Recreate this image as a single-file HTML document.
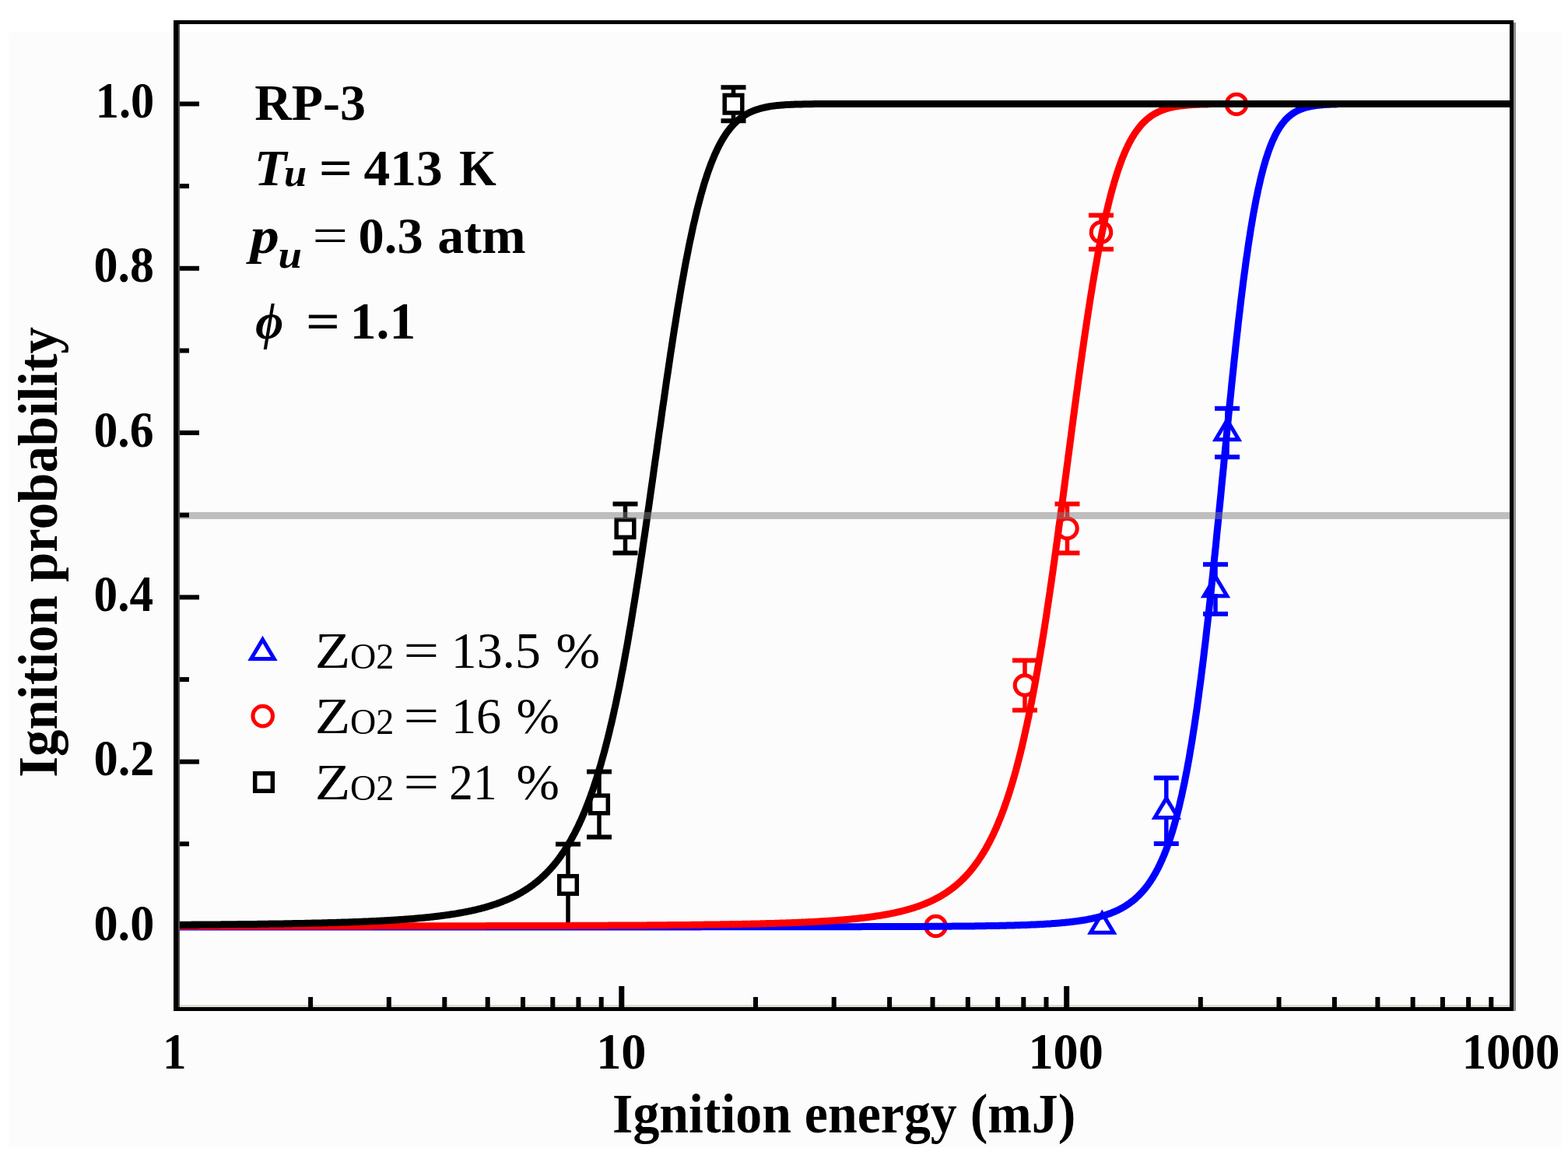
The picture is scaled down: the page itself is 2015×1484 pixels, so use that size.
<!DOCTYPE html>
<html><head><meta charset="utf-8"><title>Ignition probability</title>
<style>html,body{margin:0;padding:0;background:#fff;}svg{display:block;}</style></head>
<body>
<svg width="2015" height="1484" viewBox="0 0 2015 1484">
<rect x="0" y="0" width="2015" height="1484" fill="#ffffff"/>
<rect x="11" y="42" width="1996" height="1432" fill="#fdfcfd"/>

<line x1="1498.8" y1="999.4000000000001" x2="1498.8" y2="1084.0" stroke="#0000ff" stroke-width="5.5"/><line x1="1482.8" y1="999.4000000000001" x2="1514.8" y2="999.4000000000001" stroke="#0000ff" stroke-width="6"/><line x1="1482.8" y1="1084.0" x2="1514.8" y2="1084.0" stroke="#0000ff" stroke-width="6"/>
<line x1="1562" y1="725.2" x2="1562" y2="788.8" stroke="#0000ff" stroke-width="5.5"/><line x1="1546.0" y1="725.2" x2="1578.0" y2="725.2" stroke="#0000ff" stroke-width="6"/><line x1="1546.0" y1="788.8" x2="1578.0" y2="788.8" stroke="#0000ff" stroke-width="6"/>
<line x1="1577" y1="524.8" x2="1577" y2="587.2" stroke="#0000ff" stroke-width="5.5"/><line x1="1561.0" y1="524.8" x2="1593.0" y2="524.8" stroke="#0000ff" stroke-width="6"/><line x1="1561.0" y1="587.2" x2="1593.0" y2="587.2" stroke="#0000ff" stroke-width="6"/>
<path d="M1416.30,1178.29 L1426.71,1195.80 L1405.89,1195.80 Z" fill="#fff"/><path d="M1416.30,1168.50 L1435.50,1200.80 L1397.10,1200.80 Z M1416.30,1178.29 L1426.71,1195.80 L1405.89,1195.80 Z" fill="#00f" fill-rule="evenodd"/>
<path d="M1498.80,1030.49 L1509.21,1048.00 L1488.39,1048.00 Z" fill="#fff"/><path d="M1498.80,1020.70 L1518.00,1053.00 L1479.60,1053.00 Z M1498.80,1030.49 L1509.21,1048.00 L1488.39,1048.00 Z" fill="#00f" fill-rule="evenodd"/>
<path d="M1562.00,745.79 L1572.41,763.30 L1551.59,763.30 Z" fill="#fff"/><path d="M1562.00,736.00 L1581.20,768.30 L1542.80,768.30 Z M1562.00,745.79 L1572.41,763.30 L1551.59,763.30 Z" fill="#00f" fill-rule="evenodd"/>
<path d="M1577.00,544.79 L1587.41,562.30 L1566.59,562.30 Z" fill="#fff"/><path d="M1577.00,535.00 L1596.20,567.30 L1557.80,567.30 Z M1577.00,544.79 L1587.41,562.30 L1566.59,562.30 Z" fill="#00f" fill-rule="evenodd"/>

<line x1="1317" y1="848.5" x2="1317" y2="912.5" stroke="#ff0000" stroke-width="5.5"/><line x1="1301.0" y1="848.5" x2="1333.0" y2="848.5" stroke="#ff0000" stroke-width="6"/><line x1="1301.0" y1="912.5" x2="1333.0" y2="912.5" stroke="#ff0000" stroke-width="6"/>
<line x1="1371.5" y1="647.6" x2="1371.5" y2="710.4" stroke="#ff0000" stroke-width="5.5"/><line x1="1355.5" y1="647.6" x2="1387.5" y2="647.6" stroke="#ff0000" stroke-width="6"/><line x1="1355.5" y1="710.4" x2="1387.5" y2="710.4" stroke="#ff0000" stroke-width="6"/>
<line x1="1415" y1="276.59999999999997" x2="1415" y2="320.2" stroke="#ff0000" stroke-width="5.5"/><line x1="1399.0" y1="276.59999999999997" x2="1431.0" y2="276.59999999999997" stroke="#ff0000" stroke-width="6"/><line x1="1399.0" y1="320.2" x2="1431.0" y2="320.2" stroke="#ff0000" stroke-width="6"/>

<circle cx="1202.6" cy="1190" r="12.8" fill="#fff" stroke="#f00" stroke-width="5"/>
<circle cx="1317" cy="880.5" r="12.8" fill="#fff" stroke="#f00" stroke-width="5"/>
<circle cx="1371.5" cy="679" r="12.8" fill="#fff" stroke="#f00" stroke-width="5"/>
<circle cx="1415" cy="298.4" r="12.8" fill="#fff" stroke="#f00" stroke-width="5"/>
<circle cx="1589" cy="134" r="12.8" fill="#fff" stroke="#f00" stroke-width="5"/>
<line x1="730" y1="1084.6" x2="730" y2="1189.4" stroke="#000000" stroke-width="5.5"/><line x1="714.0" y1="1084.6" x2="746.0" y2="1084.6" stroke="#000000" stroke-width="6"/><line x1="714.0" y1="1189.4" x2="746.0" y2="1189.4" stroke="#000000" stroke-width="6"/>
<line x1="770" y1="991.5" x2="770" y2="1075.5" stroke="#000000" stroke-width="5.5"/><line x1="754.0" y1="991.5" x2="786.0" y2="991.5" stroke="#000000" stroke-width="6"/><line x1="754.0" y1="1075.5" x2="786.0" y2="1075.5" stroke="#000000" stroke-width="6"/>
<line x1="803.5" y1="647.6" x2="803.5" y2="710.4" stroke="#000000" stroke-width="5.5"/><line x1="787.5" y1="647.6" x2="819.5" y2="647.6" stroke="#000000" stroke-width="6"/><line x1="787.5" y1="710.4" x2="819.5" y2="710.4" stroke="#000000" stroke-width="6"/>
<line x1="942.5" y1="112.19999999999999" x2="942.5" y2="155.2" stroke="#000000" stroke-width="5.5"/><line x1="926.5" y1="112.19999999999999" x2="958.5" y2="112.19999999999999" stroke="#000000" stroke-width="6"/><line x1="926.5" y1="155.2" x2="958.5" y2="155.2" stroke="#000000" stroke-width="6"/>
<rect x="718.7" y="1125.7" width="22.6" height="22.6" fill="#fff" stroke="#000" stroke-width="5.5"/>
<rect x="758.7" y="1022.2" width="22.6" height="22.6" fill="#fff" stroke="#000" stroke-width="5.5"/>
<rect x="792.2" y="667.7" width="22.6" height="22.6" fill="#fff" stroke="#000" stroke-width="5.5"/>
<rect x="931.2" y="122.39999999999999" width="22.6" height="22.6" fill="#fff" stroke="#000" stroke-width="5.5"/>
<path d="M227.0,1190.9 L228.1,1190.9 L229.1,1190.9 L230.2,1190.9 L231.3,1190.9 L232.3,1190.9 L233.4,1190.9 L234.5,1190.9 L235.5,1190.9 L236.6,1190.9 L237.7,1190.9 L238.7,1190.9 L239.8,1190.9 L240.9,1190.9 L241.9,1190.9 L243.0,1190.9 L244.1,1190.9 L245.1,1190.9 L246.2,1190.9 L247.3,1190.9 L248.3,1190.9 L249.4,1190.9 L250.4,1190.9 L251.5,1190.9 L252.6,1190.9 L253.6,1190.9 L254.7,1190.9 L255.8,1190.9 L256.8,1190.9 L257.9,1190.9 L259.0,1190.9 L260.0,1190.9 L261.1,1190.9 L262.2,1190.9 L263.2,1190.9 L264.3,1190.9 L265.4,1190.9 L266.4,1190.9 L267.5,1190.9 L268.6,1190.9 L269.6,1190.9 L270.7,1190.9 L271.8,1190.9 L272.8,1190.9 L273.9,1190.9 L275.0,1190.9 L276.0,1190.9 L277.1,1190.9 L278.2,1190.9 L279.2,1190.9 L280.3,1190.9 L281.4,1190.9 L282.4,1190.9 L283.5,1190.9 L284.6,1190.9 L285.6,1190.9 L286.7,1190.9 L287.8,1190.9 L288.8,1190.9 L289.9,1190.9 L291.0,1190.9 L292.0,1190.9 L293.1,1190.9 L294.2,1190.9 L295.2,1190.9 L296.3,1190.9 L297.3,1190.9 L298.4,1190.9 L299.5,1190.9 L300.5,1190.9 L301.6,1190.9 L302.7,1190.9 L303.7,1190.9 L304.8,1190.9 L305.9,1190.9 L306.9,1190.9 L308.0,1190.9 L309.1,1190.9 L310.1,1190.9 L311.2,1190.9 L312.3,1190.9 L313.3,1190.9 L314.4,1190.9 L315.5,1190.9 L316.5,1190.9 L317.6,1190.9 L318.7,1190.9 L319.7,1190.9 L320.8,1190.9 L321.9,1190.9 L322.9,1190.9 L324.0,1190.9 L325.1,1190.9 L326.1,1190.9 L327.2,1190.9 L328.3,1190.9 L329.3,1190.9 L330.4,1190.9 L331.5,1190.9 L332.5,1190.9 L333.6,1190.9 L334.7,1190.9 L335.7,1190.9 L336.8,1190.9 L337.9,1190.9 L338.9,1190.9 L340.0,1190.9 L341.1,1190.9 L342.1,1190.9 L343.2,1190.9 L344.2,1190.9 L345.3,1190.9 L346.4,1190.9 L347.4,1190.9 L348.5,1190.9 L349.6,1190.9 L350.6,1190.9 L351.7,1190.9 L352.8,1190.9 L353.8,1190.9 L354.9,1190.9 L356.0,1190.9 L357.0,1190.9 L358.1,1190.9 L359.2,1190.9 L360.2,1190.9 L361.3,1190.9 L362.4,1190.9 L363.4,1190.9 L364.5,1190.9 L365.6,1190.9 L366.6,1190.9 L367.7,1190.9 L368.8,1190.9 L369.8,1190.9 L370.9,1190.9 L372.0,1190.9 L373.0,1190.9 L374.1,1190.9 L375.2,1190.9 L376.2,1190.9 L377.3,1190.9 L378.4,1190.9 L379.4,1190.9 L380.5,1190.9 L381.6,1190.9 L382.6,1190.9 L383.7,1190.9 L384.8,1190.9 L385.8,1190.9 L386.9,1190.9 L388.0,1190.9 L389.0,1190.9 L390.1,1190.9 L391.1,1190.9 L392.2,1190.9 L393.3,1190.9 L394.3,1190.9 L395.4,1190.9 L396.5,1190.9 L397.5,1190.9 L398.6,1190.9 L399.7,1190.9 L400.7,1190.9 L401.8,1190.9 L402.9,1190.9 L403.9,1190.9 L405.0,1190.9 L406.1,1190.9 L407.1,1190.9 L408.2,1190.9 L409.3,1190.9 L410.3,1190.9 L411.4,1190.9 L412.5,1190.9 L413.5,1190.9 L414.6,1190.9 L415.7,1190.9 L416.7,1190.9 L417.8,1190.9 L418.9,1190.9 L419.9,1190.9 L421.0,1190.9 L422.1,1190.9 L423.1,1190.9 L424.2,1190.9 L425.3,1190.9 L426.3,1190.9 L427.4,1190.9 L428.5,1190.9 L429.5,1190.9 L430.6,1190.9 L431.7,1190.9 L432.7,1190.9 L433.8,1190.9 L434.8,1190.9 L435.9,1190.9 L437.0,1190.9 L438.0,1190.9 L439.1,1190.9 L440.2,1190.9 L441.2,1190.9 L442.3,1190.9 L443.4,1190.9 L444.4,1190.9 L445.5,1190.9 L446.6,1190.9 L447.6,1190.9 L448.7,1190.9 L449.8,1190.9 L450.8,1190.9 L451.9,1190.9 L453.0,1190.9 L454.0,1190.9 L455.1,1190.9 L456.2,1190.9 L457.2,1190.9 L458.3,1190.9 L459.4,1190.9 L460.4,1190.9 L461.5,1190.9 L462.6,1190.9 L463.6,1190.9 L464.7,1190.9 L465.8,1190.9 L466.8,1190.9 L467.9,1190.9 L469.0,1190.9 L470.0,1190.9 L471.1,1190.9 L472.2,1190.9 L473.2,1190.9 L474.3,1190.9 L475.4,1190.9 L476.4,1190.9 L477.5,1190.9 L478.6,1190.9 L479.6,1190.9 L480.7,1190.9 L481.7,1190.9 L482.8,1190.9 L483.9,1190.9 L484.9,1190.9 L486.0,1190.9 L487.1,1190.9 L488.1,1190.9 L489.2,1190.9 L490.3,1190.9 L491.3,1190.9 L492.4,1190.9 L493.5,1190.9 L494.5,1190.9 L495.6,1190.9 L496.7,1190.9 L497.7,1190.9 L498.8,1190.9 L499.9,1190.9 L500.9,1190.9 L502.0,1190.9 L503.1,1190.9 L504.1,1190.9 L505.2,1190.9 L506.3,1190.9 L507.3,1190.9 L508.4,1190.9 L509.5,1190.9 L510.5,1190.9 L511.6,1190.9 L512.7,1190.9 L513.7,1190.9 L514.8,1190.9 L515.9,1190.9 L516.9,1190.9 L518.0,1190.9 L519.1,1190.9 L520.1,1190.9 L521.2,1190.9 L522.3,1190.9 L523.3,1190.9 L524.4,1190.9 L525.5,1190.9 L526.5,1190.9 L527.6,1190.9 L528.6,1190.9 L529.7,1190.9 L530.8,1190.9 L531.8,1190.9 L532.9,1190.9 L534.0,1190.9 L535.0,1190.9 L536.1,1190.9 L537.2,1190.9 L538.2,1190.9 L539.3,1190.9 L540.4,1190.9 L541.4,1190.9 L542.5,1190.9 L543.6,1190.9 L544.6,1190.9 L545.7,1190.9 L546.8,1190.9 L547.8,1190.9 L548.9,1190.9 L550.0,1190.9 L551.0,1190.9 L552.1,1190.9 L553.2,1190.9 L554.2,1190.9 L555.3,1190.9 L556.4,1190.9 L557.4,1190.9 L558.5,1190.9 L559.6,1190.9 L560.6,1190.9 L561.7,1190.9 L562.8,1190.9 L563.8,1190.9 L564.9,1190.9 L566.0,1190.9 L567.0,1190.9 L568.1,1190.9 L569.2,1190.9 L570.2,1190.9 L571.3,1190.9 L572.3,1190.9 L573.4,1190.9 L574.5,1190.9 L575.5,1190.9 L576.6,1190.9 L577.7,1190.9 L578.7,1190.9 L579.8,1190.9 L580.9,1190.9 L581.9,1190.9 L583.0,1190.9 L584.1,1190.9 L585.1,1190.9 L586.2,1190.9 L587.3,1190.9 L588.3,1190.9 L589.4,1190.9 L590.5,1190.9 L591.5,1190.9 L592.6,1190.9 L593.7,1190.9 L594.7,1190.9 L595.8,1190.9 L596.9,1190.9 L597.9,1190.9 L599.0,1190.9 L600.1,1190.9 L601.1,1190.9 L602.2,1190.9 L603.3,1190.9 L604.3,1190.9 L605.4,1190.9 L606.5,1190.9 L607.5,1190.9 L608.6,1190.9 L609.7,1190.9 L610.7,1190.9 L611.8,1190.9 L612.9,1190.9 L613.9,1190.9 L615.0,1190.9 L616.1,1190.9 L617.1,1190.9 L618.2,1190.9 L619.2,1190.9 L620.3,1190.9 L621.4,1190.9 L622.4,1190.9 L623.5,1190.9 L624.6,1190.9 L625.6,1190.9 L626.7,1190.9 L627.8,1190.9 L628.8,1190.9 L629.9,1190.9 L631.0,1190.9 L632.0,1190.9 L633.1,1190.9 L634.2,1190.9 L635.2,1190.9 L636.3,1190.9 L637.4,1190.9 L638.4,1190.9 L639.5,1190.9 L640.6,1190.9 L641.6,1190.9 L642.7,1190.9 L643.8,1190.9 L644.8,1190.9 L645.9,1190.9 L647.0,1190.9 L648.0,1190.9 L649.1,1190.9 L650.2,1190.9 L651.2,1190.9 L652.3,1190.9 L653.4,1190.9 L654.4,1190.9 L655.5,1190.9 L656.6,1190.9 L657.6,1190.9 L658.7,1190.9 L659.8,1190.9 L660.8,1190.9 L661.9,1190.9 L663.0,1190.9 L664.0,1190.9 L665.1,1190.9 L666.1,1190.9 L667.2,1190.9 L668.3,1190.9 L669.3,1190.9 L670.4,1190.9 L671.5,1190.9 L672.5,1190.9 L673.6,1190.9 L674.7,1190.9 L675.7,1190.9 L676.8,1190.9 L677.9,1190.9 L678.9,1190.9 L680.0,1190.9 L681.1,1190.9 L682.1,1190.9 L683.2,1190.9 L684.3,1190.9 L685.3,1190.9 L686.4,1190.9 L687.5,1190.9 L688.5,1190.9 L689.6,1190.9 L690.7,1190.9 L691.7,1190.9 L692.8,1190.9 L693.9,1190.9 L694.9,1190.9 L696.0,1190.9 L697.1,1190.9 L698.1,1190.9 L699.2,1190.9 L700.3,1190.9 L701.3,1190.9 L702.4,1190.9 L703.5,1190.9 L704.5,1190.9 L705.6,1190.9 L706.7,1190.9 L707.7,1190.9 L708.8,1190.9 L709.9,1190.9 L710.9,1190.9 L712.0,1190.9 L713.0,1190.9 L714.1,1190.9 L715.2,1190.9 L716.2,1190.9 L717.3,1190.9 L718.4,1190.9 L719.4,1190.9 L720.5,1190.9 L721.6,1190.9 L722.6,1190.9 L723.7,1190.9 L724.8,1190.9 L725.8,1190.9 L726.9,1190.9 L728.0,1190.9 L729.0,1190.9 L730.1,1190.9 L731.2,1190.9 L732.2,1190.9 L733.3,1190.9 L734.4,1190.9 L735.4,1190.9 L736.5,1190.9 L737.6,1190.9 L738.6,1190.9 L739.7,1190.9 L740.8,1190.9 L741.8,1190.9 L742.9,1190.9 L744.0,1190.9 L745.0,1190.9 L746.1,1190.9 L747.2,1190.9 L748.2,1190.9 L749.3,1190.9 L750.4,1190.9 L751.4,1190.9 L752.5,1190.9 L753.6,1190.9 L754.6,1190.9 L755.7,1190.9 L756.7,1190.9 L757.8,1190.9 L758.9,1190.9 L759.9,1190.9 L761.0,1190.9 L762.1,1190.9 L763.1,1190.9 L764.2,1190.9 L765.3,1190.9 L766.3,1190.9 L767.4,1190.9 L768.5,1190.9 L769.5,1190.9 L770.6,1190.9 L771.7,1190.9 L772.7,1190.9 L773.8,1190.9 L774.9,1190.9 L775.9,1190.9 L777.0,1190.9 L778.1,1190.9 L779.1,1190.9 L780.2,1190.9 L781.3,1190.9 L782.3,1190.9 L783.4,1190.9 L784.5,1190.9 L785.5,1190.9 L786.6,1190.9 L787.7,1190.9 L788.7,1190.9 L789.8,1190.9 L790.9,1190.9 L791.9,1190.9 L793.0,1190.9 L794.1,1190.9 L795.1,1190.9 L796.2,1190.9 L797.3,1190.9 L798.3,1190.9 L799.4,1190.9 L800.5,1190.9 L801.5,1190.9 L802.6,1190.9 L803.6,1190.9 L804.7,1190.9 L805.8,1190.9 L806.8,1190.9 L807.9,1190.9 L809.0,1190.9 L810.0,1190.9 L811.1,1190.9 L812.2,1190.9 L813.2,1190.9 L814.3,1190.9 L815.4,1190.9 L816.4,1190.9 L817.5,1190.9 L818.6,1190.9 L819.6,1190.9 L820.7,1190.9 L821.8,1190.9 L822.8,1190.9 L823.9,1190.9 L825.0,1190.9 L826.0,1190.9 L827.1,1190.9 L828.2,1190.9 L829.2,1190.9 L830.3,1190.9 L831.4,1190.9 L832.4,1190.9 L833.5,1190.9 L834.6,1190.9 L835.6,1190.9 L836.7,1190.9 L837.8,1190.9 L838.8,1190.9 L839.9,1190.9 L841.0,1190.9 L842.0,1190.9 L843.1,1190.9 L844.2,1190.9 L845.2,1190.9 L846.3,1190.9 L847.4,1190.9 L848.4,1190.9 L849.5,1190.9 L850.5,1190.9 L851.6,1190.9 L852.7,1190.9 L853.7,1190.9 L854.8,1190.9 L855.9,1190.9 L856.9,1190.9 L858.0,1190.9 L859.1,1190.9 L860.1,1190.9 L861.2,1190.9 L862.3,1190.9 L863.3,1190.9 L864.4,1190.9 L865.5,1190.9 L866.5,1190.9 L867.6,1190.9 L868.7,1190.9 L869.7,1190.9 L870.8,1190.9 L871.9,1190.9 L872.9,1190.9 L874.0,1190.9 L875.1,1190.9 L876.1,1190.9 L877.2,1190.9 L878.3,1190.9 L879.3,1190.9 L880.4,1190.9 L881.5,1190.9 L882.5,1190.9 L883.6,1190.9 L884.7,1190.9 L885.7,1190.9 L886.8,1190.9 L887.9,1190.9 L888.9,1190.9 L890.0,1190.9 L891.1,1190.9 L892.1,1190.9 L893.2,1190.9 L894.3,1190.9 L895.3,1190.9 L896.4,1190.9 L897.4,1190.9 L898.5,1190.9 L899.6,1190.9 L900.6,1190.9 L901.7,1190.8 L902.8,1190.8 L903.8,1190.8 L904.9,1190.8 L906.0,1190.8 L907.0,1190.8 L908.1,1190.8 L909.2,1190.8 L910.2,1190.8 L911.3,1190.8 L912.4,1190.8 L913.4,1190.8 L914.5,1190.8 L915.6,1190.8 L916.6,1190.8 L917.7,1190.8 L918.8,1190.8 L919.8,1190.8 L920.9,1190.8 L922.0,1190.8 L923.0,1190.8 L924.1,1190.8 L925.2,1190.8 L926.2,1190.8 L927.3,1190.8 L928.4,1190.8 L929.4,1190.8 L930.5,1190.8 L931.6,1190.8 L932.6,1190.8 L933.7,1190.8 L934.8,1190.8 L935.8,1190.8 L936.9,1190.8 L938.0,1190.8 L939.0,1190.8 L940.1,1190.8 L941.1,1190.8 L942.2,1190.8 L943.3,1190.8 L944.3,1190.8 L945.4,1190.8 L946.5,1190.8 L947.5,1190.8 L948.6,1190.8 L949.7,1190.8 L950.7,1190.8 L951.8,1190.8 L952.9,1190.8 L953.9,1190.8 L955.0,1190.8 L956.1,1190.8 L957.1,1190.8 L958.2,1190.8 L959.3,1190.8 L960.3,1190.8 L961.4,1190.8 L962.5,1190.8 L963.5,1190.8 L964.6,1190.8 L965.7,1190.8 L966.7,1190.8 L967.8,1190.8 L968.9,1190.8 L969.9,1190.8 L971.0,1190.8 L972.1,1190.8 L973.1,1190.8 L974.2,1190.8 L975.3,1190.8 L976.3,1190.8 L977.4,1190.8 L978.5,1190.8 L979.5,1190.8 L980.6,1190.8 L981.7,1190.8 L982.7,1190.8 L983.8,1190.8 L984.9,1190.8 L985.9,1190.8 L987.0,1190.8 L988.0,1190.8 L989.1,1190.8 L990.2,1190.8 L991.2,1190.8 L992.3,1190.8 L993.4,1190.8 L994.4,1190.8 L995.5,1190.8 L996.6,1190.8 L997.6,1190.8 L998.7,1190.8 L999.8,1190.8 L1000.8,1190.8 L1001.9,1190.8 L1003.0,1190.8 L1004.0,1190.8 L1005.1,1190.8 L1006.2,1190.8 L1007.2,1190.8 L1008.3,1190.8 L1009.4,1190.8 L1010.4,1190.8 L1011.5,1190.8 L1012.6,1190.8 L1013.6,1190.8 L1014.7,1190.8 L1015.8,1190.8 L1016.8,1190.8 L1017.9,1190.8 L1019.0,1190.8 L1020.0,1190.8 L1021.1,1190.8 L1022.2,1190.8 L1023.2,1190.8 L1024.3,1190.8 L1025.4,1190.8 L1026.4,1190.8 L1027.5,1190.8 L1028.6,1190.8 L1029.6,1190.8 L1030.7,1190.8 L1031.8,1190.8 L1032.8,1190.8 L1033.9,1190.8 L1034.9,1190.8 L1036.0,1190.8 L1037.1,1190.8 L1038.1,1190.8 L1039.2,1190.8 L1040.3,1190.8 L1041.3,1190.8 L1042.4,1190.8 L1043.5,1190.8 L1044.5,1190.7 L1045.6,1190.7 L1046.7,1190.7 L1047.7,1190.7 L1048.8,1190.7 L1049.9,1190.7 L1050.9,1190.7 L1052.0,1190.7 L1053.1,1190.7 L1054.1,1190.7 L1055.2,1190.7 L1056.3,1190.7 L1057.3,1190.7 L1058.4,1190.7 L1059.5,1190.7 L1060.5,1190.7 L1061.6,1190.7 L1062.7,1190.7 L1063.7,1190.7 L1064.8,1190.7 L1065.9,1190.7 L1066.9,1190.7 L1068.0,1190.7 L1069.1,1190.7 L1070.1,1190.7 L1071.2,1190.7 L1072.3,1190.7 L1073.3,1190.7 L1074.4,1190.7 L1075.5,1190.7 L1076.5,1190.7 L1077.6,1190.7 L1078.7,1190.7 L1079.7,1190.7 L1080.8,1190.7 L1081.8,1190.7 L1082.9,1190.7 L1084.0,1190.7 L1085.0,1190.7 L1086.1,1190.7 L1087.2,1190.7 L1088.2,1190.7 L1089.3,1190.7 L1090.4,1190.7 L1091.4,1190.7 L1092.5,1190.7 L1093.6,1190.7 L1094.6,1190.7 L1095.7,1190.7 L1096.8,1190.7 L1097.8,1190.7 L1098.9,1190.7 L1100.0,1190.7 L1101.0,1190.7 L1102.1,1190.7 L1103.2,1190.7 L1104.2,1190.7 L1105.3,1190.7 L1106.4,1190.7 L1107.4,1190.6 L1108.5,1190.6 L1109.6,1190.6 L1110.6,1190.6 L1111.7,1190.6 L1112.8,1190.6 L1113.8,1190.6 L1114.9,1190.6 L1116.0,1190.6 L1117.0,1190.6 L1118.1,1190.6 L1119.2,1190.6 L1120.2,1190.6 L1121.3,1190.6 L1122.4,1190.6 L1123.4,1190.6 L1124.5,1190.6 L1125.5,1190.6 L1126.6,1190.6 L1127.7,1190.6 L1128.7,1190.6 L1129.8,1190.6 L1130.9,1190.6 L1131.9,1190.6 L1133.0,1190.6 L1134.1,1190.6 L1135.1,1190.6 L1136.2,1190.6 L1137.3,1190.6 L1138.3,1190.6 L1139.4,1190.6 L1140.5,1190.6 L1141.5,1190.6 L1142.6,1190.6 L1143.7,1190.6 L1144.7,1190.6 L1145.8,1190.6 L1146.9,1190.5 L1147.9,1190.5 L1149.0,1190.5 L1150.1,1190.5 L1151.1,1190.5 L1152.2,1190.5 L1153.3,1190.5 L1154.3,1190.5 L1155.4,1190.5 L1156.5,1190.5 L1157.5,1190.5 L1158.6,1190.5 L1159.7,1190.5 L1160.7,1190.5 L1161.8,1190.5 L1162.9,1190.5 L1163.9,1190.5 L1165.0,1190.5 L1166.1,1190.5 L1167.1,1190.5 L1168.2,1190.5 L1169.3,1190.5 L1170.3,1190.5 L1171.4,1190.5 L1172.4,1190.5 L1173.5,1190.4 L1174.6,1190.4 L1175.6,1190.4 L1176.7,1190.4 L1177.8,1190.4 L1178.8,1190.4 L1179.9,1190.4 L1181.0,1190.4 L1182.0,1190.4 L1183.1,1190.4 L1184.2,1190.4 L1185.2,1190.4 L1186.3,1190.4 L1187.4,1190.4 L1188.4,1190.4 L1189.5,1190.4 L1190.6,1190.4 L1191.6,1190.4 L1192.7,1190.4 L1193.8,1190.3 L1194.8,1190.3 L1195.9,1190.3 L1197.0,1190.3 L1198.0,1190.3 L1199.1,1190.3 L1200.2,1190.3 L1201.2,1190.3 L1202.3,1190.3 L1203.4,1190.3 L1204.4,1190.3 L1205.5,1190.3 L1206.6,1190.3 L1207.6,1190.3 L1208.7,1190.3 L1209.8,1190.2 L1210.8,1190.2 L1211.9,1190.2 L1213.0,1190.2 L1214.0,1190.2 L1215.1,1190.2 L1216.2,1190.2 L1217.2,1190.2 L1218.3,1190.2 L1219.3,1190.2 L1220.4,1190.2 L1221.5,1190.2 L1222.5,1190.2 L1223.6,1190.1 L1224.7,1190.1 L1225.7,1190.1 L1226.8,1190.1 L1227.9,1190.1 L1228.9,1190.1 L1230.0,1190.1 L1231.1,1190.1 L1232.1,1190.1 L1233.2,1190.1 L1234.3,1190.0 L1235.3,1190.0 L1236.4,1190.0 L1237.5,1190.0 L1238.5,1190.0 L1239.6,1190.0 L1240.7,1190.0 L1241.7,1190.0 L1242.8,1190.0 L1243.9,1190.0 L1244.9,1189.9 L1246.0,1189.9 L1247.1,1189.9 L1248.1,1189.9 L1249.2,1189.9 L1250.3,1189.9 L1251.3,1189.9 L1252.4,1189.9 L1253.5,1189.8 L1254.5,1189.8 L1255.6,1189.8 L1256.7,1189.8 L1257.7,1189.8 L1258.8,1189.8 L1259.9,1189.8 L1260.9,1189.7 L1262.0,1189.7 L1263.0,1189.7 L1264.1,1189.7 L1265.2,1189.7 L1266.2,1189.7 L1267.3,1189.6 L1268.4,1189.6 L1269.4,1189.6 L1270.5,1189.6 L1271.6,1189.6 L1272.6,1189.6 L1273.7,1189.5 L1274.8,1189.5 L1275.8,1189.5 L1276.9,1189.5 L1278.0,1189.5 L1279.0,1189.4 L1280.1,1189.4 L1281.2,1189.4 L1282.2,1189.4 L1283.3,1189.4 L1284.4,1189.3 L1285.4,1189.3 L1286.5,1189.3 L1287.6,1189.3 L1288.6,1189.2 L1289.7,1189.2 L1290.8,1189.2 L1291.8,1189.2 L1292.9,1189.2 L1294.0,1189.1 L1295.0,1189.1 L1296.1,1189.1 L1297.2,1189.0 L1298.2,1189.0 L1299.3,1189.0 L1300.4,1189.0 L1301.4,1188.9 L1302.5,1188.9 L1303.6,1188.9 L1304.6,1188.8 L1305.7,1188.8 L1306.8,1188.8 L1307.8,1188.8 L1308.9,1188.7 L1309.9,1188.7 L1311.0,1188.7 L1312.1,1188.6 L1313.1,1188.6 L1314.2,1188.5 L1315.3,1188.5 L1316.3,1188.5 L1317.4,1188.4 L1318.5,1188.4 L1319.5,1188.4 L1320.6,1188.3 L1321.7,1188.3 L1322.7,1188.2 L1323.8,1188.2 L1324.9,1188.1 L1325.9,1188.1 L1327.0,1188.1 L1328.1,1188.0 L1329.1,1188.0 L1330.2,1187.9 L1331.3,1187.9 L1332.3,1187.8 L1333.4,1187.8 L1334.5,1187.7 L1335.5,1187.7 L1336.6,1187.6 L1337.7,1187.6 L1338.7,1187.5 L1339.8,1187.4 L1340.9,1187.4 L1341.9,1187.3 L1343.0,1187.3 L1344.1,1187.2 L1345.1,1187.1 L1346.2,1187.1 L1347.3,1187.0 L1348.3,1186.9 L1349.4,1186.9 L1350.5,1186.8 L1351.5,1186.7 L1352.6,1186.6 L1353.7,1186.6 L1354.7,1186.5 L1355.8,1186.4 L1356.8,1186.3 L1357.9,1186.2 L1359.0,1186.2 L1360.0,1186.1 L1361.1,1186.0 L1362.2,1185.9 L1363.2,1185.8 L1364.3,1185.7 L1365.4,1185.6 L1366.4,1185.5 L1367.5,1185.4 L1368.6,1185.3 L1369.6,1185.2 L1370.7,1185.1 L1371.8,1185.0 L1372.8,1184.9 L1373.9,1184.8 L1375.0,1184.6 L1376.0,1184.5 L1377.1,1184.4 L1378.2,1184.3 L1379.2,1184.1 L1380.3,1184.0 L1381.4,1183.9 L1382.4,1183.7 L1383.5,1183.6 L1384.6,1183.4 L1385.6,1183.3 L1386.7,1183.1 L1387.8,1183.0 L1388.8,1182.8 L1389.9,1182.7 L1391.0,1182.5 L1392.0,1182.3 L1393.1,1182.2 L1394.2,1182.0 L1395.2,1181.8 L1396.3,1181.6 L1397.4,1181.4 L1398.4,1181.2 L1399.5,1181.0 L1400.6,1180.8 L1401.6,1180.6 L1402.7,1180.4 L1403.7,1180.1 L1404.8,1179.9 L1405.9,1179.7 L1406.9,1179.4 L1408.0,1179.2 L1409.1,1178.9 L1410.1,1178.6 L1411.2,1178.4 L1412.3,1178.1 L1413.3,1177.8 L1414.4,1177.5 L1415.5,1177.2 L1416.5,1176.9 L1417.6,1176.6 L1418.7,1176.3 L1419.7,1176.0 L1420.8,1175.6 L1421.9,1175.3 L1422.9,1174.9 L1424.0,1174.5 L1425.1,1174.2 L1426.1,1173.8 L1427.2,1173.4 L1428.3,1173.0 L1429.3,1172.5 L1430.4,1172.1 L1431.5,1171.7 L1432.5,1171.2 L1433.6,1170.7 L1434.7,1170.3 L1435.7,1169.8 L1436.8,1169.3 L1437.9,1168.7 L1438.9,1168.2 L1440.0,1167.6 L1441.1,1167.1 L1442.1,1166.5 L1443.2,1165.9 L1444.3,1165.3 L1445.3,1164.6 L1446.4,1164.0 L1447.4,1163.3 L1448.5,1162.6 L1449.6,1161.9 L1450.6,1161.2 L1451.7,1160.4 L1452.8,1159.6 L1453.8,1158.8 L1454.9,1158.0 L1456.0,1157.2 L1457.0,1156.3 L1458.1,1155.4 L1459.2,1154.5 L1460.2,1153.5 L1461.3,1152.5 L1462.4,1151.5 L1463.4,1150.5 L1464.5,1149.4 L1465.6,1148.3 L1466.6,1147.2 L1467.7,1146.0 L1468.8,1144.8 L1469.8,1143.6 L1470.9,1142.3 L1472.0,1141.0 L1473.0,1139.7 L1474.1,1138.3 L1475.2,1136.8 L1476.2,1135.4 L1477.3,1133.9 L1478.4,1132.3 L1479.4,1130.7 L1480.5,1129.0 L1481.6,1127.3 L1482.6,1125.5 L1483.7,1123.7 L1484.8,1121.8 L1485.8,1119.9 L1486.9,1117.9 L1488.0,1115.9 L1489.0,1113.8 L1490.1,1111.6 L1491.2,1109.3 L1492.2,1107.0 L1493.3,1104.7 L1494.3,1102.2 L1495.4,1099.7 L1496.5,1097.1 L1497.5,1094.4 L1498.6,1091.7 L1499.7,1088.8 L1500.7,1085.9 L1501.8,1082.9 L1502.9,1079.8 L1503.9,1076.6 L1505.0,1073.3 L1506.1,1069.9 L1507.1,1066.4 L1508.2,1062.8 L1509.3,1059.1 L1510.3,1055.3 L1511.4,1051.4 L1512.5,1047.4 L1513.5,1043.2 L1514.6,1039.0 L1515.7,1034.6 L1516.7,1030.1 L1517.8,1025.5 L1518.9,1020.7 L1519.9,1015.8 L1521.0,1010.8 L1522.1,1005.7 L1523.1,1000.4 L1524.2,994.9 L1525.3,989.3 L1526.3,983.6 L1527.4,977.8 L1528.5,971.7 L1529.5,965.6 L1530.6,959.2 L1531.7,952.8 L1532.7,946.1 L1533.8,939.3 L1534.9,932.4 L1535.9,925.3 L1537.0,918.0 L1538.1,910.6 L1539.1,903.0 L1540.2,895.2 L1541.2,887.3 L1542.3,879.2 L1543.4,871.0 L1544.4,862.6 L1545.5,854.1 L1546.6,845.4 L1547.6,836.5 L1548.7,827.5 L1549.8,818.3 L1550.8,809.1 L1551.9,799.6 L1553.0,790.0 L1554.0,780.3 L1555.1,770.5 L1556.2,760.6 L1557.2,750.5 L1558.3,740.3 L1559.4,730.0 L1560.4,719.7 L1561.5,709.2 L1562.6,698.7 L1563.6,688.0 L1564.7,677.3 L1565.8,666.6 L1566.8,655.8 L1567.9,645.0 L1569.0,634.1 L1570.0,623.2 L1571.1,612.3 L1572.2,601.4 L1573.2,590.5 L1574.3,579.6 L1575.4,568.7 L1576.4,557.9 L1577.5,547.1 L1578.6,536.4 L1579.6,525.7 L1580.7,515.1 L1581.8,504.6 L1582.8,494.2 L1583.9,483.8 L1585.0,473.6 L1586.0,463.5 L1587.1,453.5 L1588.1,443.7 L1589.2,434.0 L1590.3,424.4 L1591.3,415.0 L1592.4,405.8 L1593.5,396.7 L1594.5,387.7 L1595.6,379.0 L1596.7,370.4 L1597.7,362.0 L1598.8,353.8 L1599.9,345.8 L1600.9,337.9 L1602.0,330.3 L1603.1,322.8 L1604.1,315.6 L1605.2,308.5 L1606.3,301.6 L1607.3,294.9 L1608.4,288.4 L1609.5,282.1 L1610.5,276.0 L1611.6,270.1 L1612.7,264.3 L1613.7,258.8 L1614.8,253.4 L1615.9,248.2 L1616.9,243.2 L1618.0,238.4 L1619.1,233.7 L1620.1,229.2 L1621.2,224.9 L1622.3,220.7 L1623.3,216.7 L1624.4,212.8 L1625.5,209.1 L1626.5,205.6 L1627.6,202.1 L1628.7,198.8 L1629.7,195.7 L1630.8,192.7 L1631.8,189.8 L1632.9,187.0 L1634.0,184.3 L1635.0,181.8 L1636.1,179.4 L1637.2,177.1 L1638.2,174.8 L1639.3,172.7 L1640.4,170.7 L1641.4,168.8 L1642.5,166.9 L1643.6,165.2 L1644.6,163.5 L1645.7,161.9 L1646.8,160.4 L1647.8,158.9 L1648.9,157.6 L1650.0,156.3 L1651.0,155.0 L1652.1,153.8 L1653.2,152.7 L1654.2,151.7 L1655.3,150.6 L1656.4,149.7 L1657.4,148.8 L1658.5,147.9 L1659.6,147.1 L1660.6,146.3 L1661.7,145.6 L1662.8,144.9 L1663.8,144.2 L1664.9,143.6 L1666.0,143.0 L1667.0,142.4 L1668.1,141.9 L1669.2,141.4 L1670.2,140.9 L1671.3,140.5 L1672.4,140.1 L1673.4,139.7 L1674.5,139.3 L1675.6,138.9 L1676.6,138.6 L1677.7,138.3 L1678.7,138.0 L1679.8,137.7 L1680.9,137.5 L1681.9,137.2 L1683.0,137.0 L1684.1,136.8 L1685.1,136.6 L1686.2,136.4 L1687.3,136.2 L1688.3,136.0 L1689.4,135.8 L1690.5,135.7 L1691.5,135.5 L1692.6,135.4 L1693.7,135.3 L1694.7,135.2 L1695.8,135.1 L1696.9,135.0 L1697.9,134.9 L1699.0,134.8 L1700.1,134.7 L1701.1,134.6 L1702.2,134.5 L1703.3,134.5 L1704.3,134.4 L1705.4,134.3 L1706.5,134.3 L1707.5,134.2 L1708.6,134.2 L1709.7,134.1 L1710.7,134.1 L1711.8,134.0 L1712.9,134.0 L1713.9,134.0 L1715.0,133.9 L1716.1,133.9 L1717.1,133.9 L1718.2,133.8 L1719.3,133.8" fill="none" stroke="#0000ff" stroke-width="9" stroke-linejoin="round"/>
<path d="M227.0,1190.0 L227.9,1190.0 L228.9,1190.0 L229.8,1190.0 L230.8,1190.0 L231.7,1190.0 L232.7,1190.0 L233.6,1190.0 L234.6,1190.0 L235.5,1190.0 L236.5,1190.0 L237.4,1190.0 L238.4,1190.0 L239.3,1190.0 L240.3,1190.0 L241.2,1190.0 L242.2,1190.0 L243.1,1190.0 L244.1,1190.0 L245.0,1190.0 L246.0,1190.0 L246.9,1190.0 L247.9,1190.0 L248.8,1190.0 L249.8,1190.0 L250.7,1190.0 L251.7,1190.0 L252.6,1190.0 L253.6,1190.0 L254.5,1190.0 L255.5,1190.0 L256.4,1190.0 L257.4,1190.0 L258.3,1190.0 L259.2,1190.0 L260.2,1190.0 L261.1,1190.0 L262.1,1190.0 L263.0,1190.0 L264.0,1190.0 L264.9,1190.0 L265.9,1190.0 L266.8,1190.0 L267.8,1190.0 L268.7,1190.0 L269.7,1190.0 L270.6,1190.0 L271.6,1190.0 L272.5,1190.0 L273.5,1190.0 L274.4,1190.0 L275.4,1190.0 L276.3,1190.0 L277.3,1190.0 L278.2,1190.0 L279.2,1190.0 L280.1,1190.0 L281.1,1190.0 L282.0,1190.0 L283.0,1190.0 L283.9,1190.0 L284.9,1190.0 L285.8,1190.0 L286.8,1190.0 L287.7,1190.0 L288.7,1190.0 L289.6,1190.0 L290.6,1190.0 L291.5,1190.0 L292.4,1190.0 L293.4,1190.0 L294.3,1190.0 L295.3,1190.0 L296.2,1190.0 L297.2,1190.0 L298.1,1190.0 L299.1,1190.0 L300.0,1190.0 L301.0,1190.0 L301.9,1190.0 L302.9,1190.0 L303.8,1190.0 L304.8,1190.0 L305.7,1190.0 L306.7,1190.0 L307.6,1190.0 L308.6,1190.0 L309.5,1190.0 L310.5,1190.0 L311.4,1190.0 L312.4,1190.0 L313.3,1190.0 L314.3,1190.0 L315.2,1190.0 L316.2,1190.0 L317.1,1190.0 L318.1,1190.0 L319.0,1190.0 L320.0,1190.0 L320.9,1190.0 L321.9,1190.0 L322.8,1190.0 L323.7,1190.0 L324.7,1190.0 L325.6,1190.0 L326.6,1189.9 L327.5,1189.9 L328.5,1189.9 L329.4,1189.9 L330.4,1189.9 L331.3,1189.9 L332.3,1189.9 L333.2,1189.9 L334.2,1189.9 L335.1,1189.9 L336.1,1189.9 L337.0,1189.9 L338.0,1189.9 L338.9,1189.9 L339.9,1189.9 L340.8,1189.9 L341.8,1189.9 L342.7,1189.9 L343.7,1189.9 L344.6,1189.9 L345.6,1189.9 L346.5,1189.9 L347.5,1189.9 L348.4,1189.9 L349.4,1189.9 L350.3,1189.9 L351.3,1189.9 L352.2,1189.9 L353.2,1189.9 L354.1,1189.9 L355.0,1189.9 L356.0,1189.9 L356.9,1189.9 L357.9,1189.9 L358.8,1189.9 L359.8,1189.9 L360.7,1189.9 L361.7,1189.9 L362.6,1189.9 L363.6,1189.9 L364.5,1189.9 L365.5,1189.9 L366.4,1189.9 L367.4,1189.9 L368.3,1189.9 L369.3,1189.9 L370.2,1189.9 L371.2,1189.9 L372.1,1189.9 L373.1,1189.9 L374.0,1189.9 L375.0,1189.9 L375.9,1189.9 L376.9,1189.9 L377.8,1189.9 L378.8,1189.9 L379.7,1189.9 L380.7,1189.9 L381.6,1189.9 L382.6,1189.9 L383.5,1189.9 L384.5,1189.9 L385.4,1189.9 L386.4,1189.9 L387.3,1189.9 L388.2,1189.9 L389.2,1189.9 L390.1,1189.9 L391.1,1189.9 L392.0,1189.9 L393.0,1189.9 L393.9,1189.9 L394.9,1189.9 L395.8,1189.9 L396.8,1189.9 L397.7,1189.9 L398.7,1189.9 L399.6,1189.9 L400.6,1189.9 L401.5,1189.9 L402.5,1189.9 L403.4,1189.9 L404.4,1189.9 L405.3,1189.9 L406.3,1189.9 L407.2,1189.9 L408.2,1189.9 L409.1,1189.9 L410.1,1189.9 L411.0,1189.9 L412.0,1189.9 L412.9,1189.9 L413.9,1189.9 L414.8,1189.9 L415.8,1189.9 L416.7,1189.9 L417.7,1189.9 L418.6,1189.9 L419.5,1189.9 L420.5,1189.9 L421.4,1189.9 L422.4,1189.9 L423.3,1189.9 L424.3,1189.9 L425.2,1189.9 L426.2,1189.9 L427.1,1189.9 L428.1,1189.9 L429.0,1189.9 L430.0,1189.9 L430.9,1189.9 L431.9,1189.9 L432.8,1189.9 L433.8,1189.9 L434.7,1189.9 L435.7,1189.9 L436.6,1189.9 L437.6,1189.9 L438.5,1189.9 L439.5,1189.9 L440.4,1189.9 L441.4,1189.9 L442.3,1189.9 L443.3,1189.9 L444.2,1189.9 L445.2,1189.9 L446.1,1189.9 L447.1,1189.9 L448.0,1189.9 L449.0,1189.9 L449.9,1189.9 L450.8,1189.9 L451.8,1189.9 L452.7,1189.9 L453.7,1189.9 L454.6,1189.9 L455.6,1189.9 L456.5,1189.9 L457.5,1189.9 L458.4,1189.9 L459.4,1189.9 L460.3,1189.9 L461.3,1189.9 L462.2,1189.9 L463.2,1189.9 L464.1,1189.9 L465.1,1189.9 L466.0,1189.9 L467.0,1189.9 L467.9,1189.9 L468.9,1189.9 L469.8,1189.9 L470.8,1189.9 L471.7,1189.9 L472.7,1189.9 L473.6,1189.9 L474.6,1189.9 L475.5,1189.9 L476.5,1189.9 L477.4,1189.9 L478.4,1189.8 L479.3,1189.8 L480.3,1189.8 L481.2,1189.8 L482.2,1189.8 L483.1,1189.8 L484.0,1189.8 L485.0,1189.8 L485.9,1189.8 L486.9,1189.8 L487.8,1189.8 L488.8,1189.8 L489.7,1189.8 L490.7,1189.8 L491.6,1189.8 L492.6,1189.8 L493.5,1189.8 L494.5,1189.8 L495.4,1189.8 L496.4,1189.8 L497.3,1189.8 L498.3,1189.8 L499.2,1189.8 L500.2,1189.8 L501.1,1189.8 L502.1,1189.8 L503.0,1189.8 L504.0,1189.8 L504.9,1189.8 L505.9,1189.8 L506.8,1189.8 L507.8,1189.8 L508.7,1189.8 L509.7,1189.8 L510.6,1189.8 L511.6,1189.8 L512.5,1189.8 L513.5,1189.8 L514.4,1189.8 L515.3,1189.8 L516.3,1189.8 L517.2,1189.8 L518.2,1189.8 L519.1,1189.8 L520.1,1189.8 L521.0,1189.8 L522.0,1189.8 L522.9,1189.8 L523.9,1189.8 L524.8,1189.8 L525.8,1189.8 L526.7,1189.8 L527.7,1189.8 L528.6,1189.8 L529.6,1189.8 L530.5,1189.8 L531.5,1189.8 L532.4,1189.8 L533.4,1189.8 L534.3,1189.8 L535.3,1189.8 L536.2,1189.8 L537.2,1189.8 L538.1,1189.8 L539.1,1189.8 L540.0,1189.8 L541.0,1189.8 L541.9,1189.8 L542.9,1189.8 L543.8,1189.8 L544.8,1189.8 L545.7,1189.8 L546.6,1189.8 L547.6,1189.8 L548.5,1189.8 L549.5,1189.8 L550.4,1189.8 L551.4,1189.8 L552.3,1189.8 L553.3,1189.8 L554.2,1189.8 L555.2,1189.8 L556.1,1189.8 L557.1,1189.8 L558.0,1189.8 L559.0,1189.8 L559.9,1189.8 L560.9,1189.8 L561.8,1189.8 L562.8,1189.8 L563.7,1189.8 L564.7,1189.8 L565.6,1189.7 L566.6,1189.7 L567.5,1189.7 L568.5,1189.7 L569.4,1189.7 L570.4,1189.7 L571.3,1189.7 L572.3,1189.7 L573.2,1189.7 L574.2,1189.7 L575.1,1189.7 L576.1,1189.7 L577.0,1189.7 L578.0,1189.7 L578.9,1189.7 L579.8,1189.7 L580.8,1189.7 L581.7,1189.7 L582.7,1189.7 L583.6,1189.7 L584.6,1189.7 L585.5,1189.7 L586.5,1189.7 L587.4,1189.7 L588.4,1189.7 L589.3,1189.7 L590.3,1189.7 L591.2,1189.7 L592.2,1189.7 L593.1,1189.7 L594.1,1189.7 L595.0,1189.7 L596.0,1189.7 L596.9,1189.7 L597.9,1189.7 L598.8,1189.7 L599.8,1189.7 L600.7,1189.7 L601.7,1189.7 L602.6,1189.7 L603.6,1189.7 L604.5,1189.7 L605.5,1189.7 L606.4,1189.7 L607.4,1189.7 L608.3,1189.7 L609.3,1189.7 L610.2,1189.7 L611.1,1189.7 L612.1,1189.7 L613.0,1189.7 L614.0,1189.7 L614.9,1189.7 L615.9,1189.7 L616.8,1189.7 L617.8,1189.7 L618.7,1189.7 L619.7,1189.7 L620.6,1189.7 L621.6,1189.7 L622.5,1189.7 L623.5,1189.7 L624.4,1189.7 L625.4,1189.6 L626.3,1189.6 L627.3,1189.6 L628.2,1189.6 L629.2,1189.6 L630.1,1189.6 L631.1,1189.6 L632.0,1189.6 L633.0,1189.6 L633.9,1189.6 L634.9,1189.6 L635.8,1189.6 L636.8,1189.6 L637.7,1189.6 L638.7,1189.6 L639.6,1189.6 L640.6,1189.6 L641.5,1189.6 L642.5,1189.6 L643.4,1189.6 L644.3,1189.6 L645.3,1189.6 L646.2,1189.6 L647.2,1189.6 L648.1,1189.6 L649.1,1189.6 L650.0,1189.6 L651.0,1189.6 L651.9,1189.6 L652.9,1189.6 L653.8,1189.6 L654.8,1189.6 L655.7,1189.6 L656.7,1189.6 L657.6,1189.6 L658.6,1189.6 L659.5,1189.6 L660.5,1189.6 L661.4,1189.6 L662.4,1189.6 L663.3,1189.6 L664.3,1189.6 L665.2,1189.6 L666.2,1189.6 L667.1,1189.6 L668.1,1189.6 L669.0,1189.6 L670.0,1189.5 L670.9,1189.5 L671.9,1189.5 L672.8,1189.5 L673.8,1189.5 L674.7,1189.5 L675.6,1189.5 L676.6,1189.5 L677.5,1189.5 L678.5,1189.5 L679.4,1189.5 L680.4,1189.5 L681.3,1189.5 L682.3,1189.5 L683.2,1189.5 L684.2,1189.5 L685.1,1189.5 L686.1,1189.5 L687.0,1189.5 L688.0,1189.5 L688.9,1189.5 L689.9,1189.5 L690.8,1189.5 L691.8,1189.5 L692.7,1189.5 L693.7,1189.5 L694.6,1189.5 L695.6,1189.5 L696.5,1189.5 L697.5,1189.5 L698.4,1189.5 L699.4,1189.5 L700.3,1189.5 L701.3,1189.5 L702.2,1189.5 L703.2,1189.5 L704.1,1189.5 L705.1,1189.5 L706.0,1189.4 L706.9,1189.4 L707.9,1189.4 L708.8,1189.4 L709.8,1189.4 L710.7,1189.4 L711.7,1189.4 L712.6,1189.4 L713.6,1189.4 L714.5,1189.4 L715.5,1189.4 L716.4,1189.4 L717.4,1189.4 L718.3,1189.4 L719.3,1189.4 L720.2,1189.4 L721.2,1189.4 L722.1,1189.4 L723.1,1189.4 L724.0,1189.4 L725.0,1189.4 L725.9,1189.4 L726.9,1189.4 L727.8,1189.4 L728.8,1189.4 L729.7,1189.4 L730.7,1189.4 L731.6,1189.4 L732.6,1189.4 L733.5,1189.4 L734.5,1189.4 L735.4,1189.3 L736.4,1189.3 L737.3,1189.3 L738.3,1189.3 L739.2,1189.3 L740.1,1189.3 L741.1,1189.3 L742.0,1189.3 L743.0,1189.3 L743.9,1189.3 L744.9,1189.3 L745.8,1189.3 L746.8,1189.3 L747.7,1189.3 L748.7,1189.3 L749.6,1189.3 L750.6,1189.3 L751.5,1189.3 L752.5,1189.3 L753.4,1189.3 L754.4,1189.3 L755.3,1189.3 L756.3,1189.3 L757.2,1189.3 L758.2,1189.3 L759.1,1189.3 L760.1,1189.2 L761.0,1189.2 L762.0,1189.2 L762.9,1189.2 L763.9,1189.2 L764.8,1189.2 L765.8,1189.2 L766.7,1189.2 L767.7,1189.2 L768.6,1189.2 L769.6,1189.2 L770.5,1189.2 L771.4,1189.2 L772.4,1189.2 L773.3,1189.2 L774.3,1189.2 L775.2,1189.2 L776.2,1189.2 L777.1,1189.2 L778.1,1189.2 L779.0,1189.2 L780.0,1189.2 L780.9,1189.2 L781.9,1189.1 L782.8,1189.1 L783.8,1189.1 L784.7,1189.1 L785.7,1189.1 L786.6,1189.1 L787.6,1189.1 L788.5,1189.1 L789.5,1189.1 L790.4,1189.1 L791.4,1189.1 L792.3,1189.1 L793.3,1189.1 L794.2,1189.1 L795.2,1189.1 L796.1,1189.1 L797.1,1189.1 L798.0,1189.1 L799.0,1189.1 L799.9,1189.0 L800.9,1189.0 L801.8,1189.0 L802.7,1189.0 L803.7,1189.0 L804.6,1189.0 L805.6,1189.0 L806.5,1189.0 L807.5,1189.0 L808.4,1189.0 L809.4,1189.0 L810.3,1189.0 L811.3,1189.0 L812.2,1189.0 L813.2,1189.0 L814.1,1189.0 L815.1,1189.0 L816.0,1189.0 L817.0,1188.9 L817.9,1188.9 L818.9,1188.9 L819.8,1188.9 L820.8,1188.9 L821.7,1188.9 L822.7,1188.9 L823.6,1188.9 L824.6,1188.9 L825.5,1188.9 L826.5,1188.9 L827.4,1188.9 L828.4,1188.9 L829.3,1188.9 L830.3,1188.9 L831.2,1188.9 L832.2,1188.8 L833.1,1188.8 L834.1,1188.8 L835.0,1188.8 L835.9,1188.8 L836.9,1188.8 L837.8,1188.8 L838.8,1188.8 L839.7,1188.8 L840.7,1188.8 L841.6,1188.8 L842.6,1188.8 L843.5,1188.8 L844.5,1188.8 L845.4,1188.7 L846.4,1188.7 L847.3,1188.7 L848.3,1188.7 L849.2,1188.7 L850.2,1188.7 L851.1,1188.7 L852.1,1188.7 L853.0,1188.7 L854.0,1188.7 L854.9,1188.7 L855.9,1188.7 L856.8,1188.6 L857.8,1188.6 L858.7,1188.6 L859.7,1188.6 L860.6,1188.6 L861.6,1188.6 L862.5,1188.6 L863.5,1188.6 L864.4,1188.6 L865.4,1188.6 L866.3,1188.6 L867.2,1188.6 L868.2,1188.5 L869.1,1188.5 L870.1,1188.5 L871.0,1188.5 L872.0,1188.5 L872.9,1188.5 L873.9,1188.5 L874.8,1188.5 L875.8,1188.5 L876.7,1188.5 L877.7,1188.5 L878.6,1188.4 L879.6,1188.4 L880.5,1188.4 L881.5,1188.4 L882.4,1188.4 L883.4,1188.4 L884.3,1188.4 L885.3,1188.4 L886.2,1188.4 L887.2,1188.4 L888.1,1188.3 L889.1,1188.3 L890.0,1188.3 L891.0,1188.3 L891.9,1188.3 L892.9,1188.3 L893.8,1188.3 L894.8,1188.3 L895.7,1188.3 L896.7,1188.2 L897.6,1188.2 L898.5,1188.2 L899.5,1188.2 L900.4,1188.2 L901.4,1188.2 L902.3,1188.2 L903.3,1188.2 L904.2,1188.2 L905.2,1188.1 L906.1,1188.1 L907.1,1188.1 L908.0,1188.1 L909.0,1188.1 L909.9,1188.1 L910.9,1188.1 L911.8,1188.1 L912.8,1188.0 L913.7,1188.0 L914.7,1188.0 L915.6,1188.0 L916.6,1188.0 L917.5,1188.0 L918.5,1188.0 L919.4,1187.9 L920.4,1187.9 L921.3,1187.9 L922.3,1187.9 L923.2,1187.9 L924.2,1187.9 L925.1,1187.9 L926.1,1187.8 L927.0,1187.8 L928.0,1187.8 L928.9,1187.8 L929.9,1187.8 L930.8,1187.8 L931.7,1187.8 L932.7,1187.7 L933.6,1187.7 L934.6,1187.7 L935.5,1187.7 L936.5,1187.7 L937.4,1187.7 L938.4,1187.6 L939.3,1187.6 L940.3,1187.6 L941.2,1187.6 L942.2,1187.6 L943.1,1187.6 L944.1,1187.5 L945.0,1187.5 L946.0,1187.5 L946.9,1187.5 L947.9,1187.5 L948.8,1187.5 L949.8,1187.4 L950.7,1187.4 L951.7,1187.4 L952.6,1187.4 L953.6,1187.4 L954.5,1187.3 L955.5,1187.3 L956.4,1187.3 L957.4,1187.3 L958.3,1187.3 L959.3,1187.3 L960.2,1187.2 L961.2,1187.2 L962.1,1187.2 L963.0,1187.2 L964.0,1187.2 L964.9,1187.1 L965.9,1187.1 L966.8,1187.1 L967.8,1187.1 L968.7,1187.0 L969.7,1187.0 L970.6,1187.0 L971.6,1187.0 L972.5,1187.0 L973.5,1186.9 L974.4,1186.9 L975.4,1186.9 L976.3,1186.9 L977.3,1186.8 L978.2,1186.8 L979.2,1186.8 L980.1,1186.8 L981.1,1186.7 L982.0,1186.7 L983.0,1186.7 L983.9,1186.7 L984.9,1186.6 L985.8,1186.6 L986.8,1186.6 L987.7,1186.6 L988.7,1186.5 L989.6,1186.5 L990.6,1186.5 L991.5,1186.5 L992.5,1186.4 L993.4,1186.4 L994.3,1186.4 L995.3,1186.4 L996.2,1186.3 L997.2,1186.3 L998.1,1186.3 L999.1,1186.2 L1000.0,1186.2 L1001.0,1186.2 L1001.9,1186.1 L1002.9,1186.1 L1003.8,1186.1 L1004.8,1186.1 L1005.7,1186.0 L1006.7,1186.0 L1007.6,1186.0 L1008.6,1185.9 L1009.5,1185.9 L1010.5,1185.9 L1011.4,1185.8 L1012.4,1185.8 L1013.3,1185.8 L1014.3,1185.7 L1015.2,1185.7 L1016.2,1185.7 L1017.1,1185.6 L1018.1,1185.6 L1019.0,1185.6 L1020.0,1185.5 L1020.9,1185.5 L1021.9,1185.4 L1022.8,1185.4 L1023.8,1185.4 L1024.7,1185.3 L1025.7,1185.3 L1026.6,1185.2 L1027.5,1185.2 L1028.5,1185.2 L1029.4,1185.1 L1030.4,1185.1 L1031.3,1185.0 L1032.3,1185.0 L1033.2,1185.0 L1034.2,1184.9 L1035.1,1184.9 L1036.1,1184.8 L1037.0,1184.8 L1038.0,1184.7 L1038.9,1184.7 L1039.9,1184.6 L1040.8,1184.6 L1041.8,1184.6 L1042.7,1184.5 L1043.7,1184.5 L1044.6,1184.4 L1045.6,1184.4 L1046.5,1184.3 L1047.5,1184.3 L1048.4,1184.2 L1049.4,1184.2 L1050.3,1184.1 L1051.3,1184.1 L1052.2,1184.0 L1053.2,1184.0 L1054.1,1183.9 L1055.1,1183.8 L1056.0,1183.8 L1057.0,1183.7 L1057.9,1183.7 L1058.8,1183.6 L1059.8,1183.6 L1060.7,1183.5 L1061.7,1183.4 L1062.6,1183.4 L1063.6,1183.3 L1064.5,1183.3 L1065.5,1183.2 L1066.4,1183.1 L1067.4,1183.1 L1068.3,1183.0 L1069.3,1182.9 L1070.2,1182.9 L1071.2,1182.8 L1072.1,1182.7 L1073.1,1182.7 L1074.0,1182.6 L1075.0,1182.5 L1075.9,1182.5 L1076.9,1182.4 L1077.8,1182.3 L1078.8,1182.2 L1079.7,1182.2 L1080.7,1182.1 L1081.6,1182.0 L1082.6,1181.9 L1083.5,1181.9 L1084.5,1181.8 L1085.4,1181.7 L1086.4,1181.6 L1087.3,1181.5 L1088.3,1181.4 L1089.2,1181.4 L1090.1,1181.3 L1091.1,1181.2 L1092.0,1181.1 L1093.0,1181.0 L1093.9,1180.9 L1094.9,1180.8 L1095.8,1180.7 L1096.8,1180.6 L1097.7,1180.6 L1098.7,1180.5 L1099.6,1180.4 L1100.6,1180.3 L1101.5,1180.2 L1102.5,1180.1 L1103.4,1180.0 L1104.4,1179.9 L1105.3,1179.7 L1106.3,1179.6 L1107.2,1179.5 L1108.2,1179.4 L1109.1,1179.3 L1110.1,1179.2 L1111.0,1179.1 L1112.0,1179.0 L1112.9,1178.9 L1113.9,1178.7 L1114.8,1178.6 L1115.8,1178.5 L1116.7,1178.4 L1117.7,1178.2 L1118.6,1178.1 L1119.6,1178.0 L1120.5,1177.9 L1121.5,1177.7 L1122.4,1177.6 L1123.3,1177.5 L1124.3,1177.3 L1125.2,1177.2 L1126.2,1177.0 L1127.1,1176.9 L1128.1,1176.7 L1129.0,1176.6 L1130.0,1176.5 L1130.9,1176.3 L1131.9,1176.1 L1132.8,1176.0 L1133.8,1175.8 L1134.7,1175.7 L1135.7,1175.5 L1136.6,1175.3 L1137.6,1175.2 L1138.5,1175.0 L1139.5,1174.8 L1140.4,1174.7 L1141.4,1174.5 L1142.3,1174.3 L1143.3,1174.1 L1144.2,1173.9 L1145.2,1173.7 L1146.1,1173.6 L1147.1,1173.4 L1148.0,1173.2 L1149.0,1173.0 L1149.9,1172.8 L1150.9,1172.6 L1151.8,1172.3 L1152.8,1172.1 L1153.7,1171.9 L1154.6,1171.7 L1155.6,1171.5 L1156.5,1171.3 L1157.5,1171.0 L1158.4,1170.8 L1159.4,1170.6 L1160.3,1170.3 L1161.3,1170.1 L1162.2,1169.8 L1163.2,1169.6 L1164.1,1169.3 L1165.1,1169.1 L1166.0,1168.8 L1167.0,1168.5 L1167.9,1168.3 L1168.9,1168.0 L1169.8,1167.7 L1170.8,1167.4 L1171.7,1167.2 L1172.7,1166.9 L1173.6,1166.6 L1174.6,1166.3 L1175.5,1166.0 L1176.5,1165.6 L1177.4,1165.3 L1178.4,1165.0 L1179.3,1164.7 L1180.3,1164.4 L1181.2,1164.0 L1182.2,1163.7 L1183.1,1163.3 L1184.1,1163.0 L1185.0,1162.6 L1185.9,1162.3 L1186.9,1161.9 L1187.8,1161.5 L1188.8,1161.1 L1189.7,1160.7 L1190.7,1160.3 L1191.6,1159.9 L1192.6,1159.5 L1193.5,1159.1 L1194.5,1158.7 L1195.4,1158.3 L1196.4,1157.8 L1197.3,1157.4 L1198.3,1156.9 L1199.2,1156.5 L1200.2,1156.0 L1201.1,1155.5 L1202.1,1155.0 L1203.0,1154.5 L1204.0,1154.0 L1204.9,1153.5 L1205.9,1153.0 L1206.8,1152.5 L1207.8,1152.0 L1208.7,1151.4 L1209.7,1150.9 L1210.6,1150.3 L1211.6,1149.7 L1212.5,1149.1 L1213.5,1148.5 L1214.4,1147.9 L1215.4,1147.3 L1216.3,1146.7 L1217.3,1146.1 L1218.2,1145.4 L1219.1,1144.7 L1220.1,1144.1 L1221.0,1143.4 L1222.0,1142.7 L1222.9,1142.0 L1223.9,1141.3 L1224.8,1140.5 L1225.8,1139.8 L1226.7,1139.0 L1227.7,1138.3 L1228.6,1137.5 L1229.6,1136.7 L1230.5,1135.9 L1231.5,1135.0 L1232.4,1134.2 L1233.4,1133.3 L1234.3,1132.4 L1235.3,1131.6 L1236.2,1130.6 L1237.2,1129.7 L1238.1,1128.8 L1239.1,1127.8 L1240.0,1126.8 L1241.0,1125.9 L1241.9,1124.8 L1242.9,1123.8 L1243.8,1122.8 L1244.8,1121.7 L1245.7,1120.6 L1246.7,1119.5 L1247.6,1118.4 L1248.6,1117.2 L1249.5,1116.0 L1250.4,1114.8 L1251.4,1113.6 L1252.3,1112.4 L1253.3,1111.1 L1254.2,1109.8 L1255.2,1108.5 L1256.1,1107.2 L1257.1,1105.8 L1258.0,1104.4 L1259.0,1103.0 L1259.9,1101.6 L1260.9,1100.1 L1261.8,1098.6 L1262.8,1097.1 L1263.7,1095.6 L1264.7,1094.0 L1265.6,1092.4 L1266.6,1090.8 L1267.5,1089.1 L1268.5,1087.4 L1269.4,1085.7 L1270.4,1083.9 L1271.3,1082.1 L1272.3,1080.3 L1273.2,1078.4 L1274.2,1076.5 L1275.1,1074.6 L1276.1,1072.6 L1277.0,1070.6 L1278.0,1068.6 L1278.9,1066.5 L1279.9,1064.4 L1280.8,1062.2 L1281.7,1060.0 L1282.7,1057.8 L1283.6,1055.5 L1284.6,1053.1 L1285.5,1050.8 L1286.5,1048.4 L1287.4,1045.9 L1288.4,1043.4 L1289.3,1040.9 L1290.3,1038.3 L1291.2,1035.6 L1292.2,1032.9 L1293.1,1030.2 L1294.1,1027.4 L1295.0,1024.6 L1296.0,1021.7 L1296.9,1018.8 L1297.9,1015.8 L1298.8,1012.7 L1299.8,1009.6 L1300.7,1006.5 L1301.7,1003.3 L1302.6,1000.0 L1303.6,996.7 L1304.5,993.3 L1305.5,989.9 L1306.4,986.4 L1307.4,982.8 L1308.3,979.2 L1309.3,975.5 L1310.2,971.8 L1311.2,968.0 L1312.1,964.1 L1313.1,960.2 L1314.0,956.2 L1314.9,952.1 L1315.9,948.0 L1316.8,943.8 L1317.8,939.6 L1318.7,935.2 L1319.7,930.9 L1320.6,926.4 L1321.6,921.9 L1322.5,917.3 L1323.5,912.6 L1324.4,907.9 L1325.4,903.1 L1326.3,898.2 L1327.3,893.3 L1328.2,888.3 L1329.2,883.2 L1330.1,878.1 L1331.1,872.9 L1332.0,867.6 L1333.0,862.2 L1333.9,856.8 L1334.9,851.3 L1335.8,845.7 L1336.8,840.1 L1337.7,834.4 L1338.7,828.7 L1339.6,822.8 L1340.6,816.9 L1341.5,811.0 L1342.5,805.0 L1343.4,798.9 L1344.4,792.7 L1345.3,786.5 L1346.2,780.2 L1347.2,773.9 L1348.1,767.5 L1349.1,761.1 L1350.0,754.6 L1351.0,748.0 L1351.9,741.4 L1352.9,734.8 L1353.8,728.0 L1354.8,721.3 L1355.7,714.5 L1356.7,707.6 L1357.6,700.8 L1358.6,693.8 L1359.5,686.9 L1360.5,679.9 L1361.4,672.8 L1362.4,665.8 L1363.3,658.7 L1364.3,651.6 L1365.2,644.4 L1366.2,637.3 L1367.1,630.1 L1368.1,622.9 L1369.0,615.7 L1370.0,608.5 L1370.9,601.3 L1371.9,594.0 L1372.8,586.8 L1373.8,579.6 L1374.7,572.3 L1375.7,565.1 L1376.6,557.9 L1377.5,550.7 L1378.5,543.5 L1379.4,536.4 L1380.4,529.2 L1381.3,522.1 L1382.3,515.0 L1383.2,508.0 L1384.2,501.0 L1385.1,494.0 L1386.1,487.0 L1387.0,480.1 L1388.0,473.2 L1388.9,466.4 L1389.9,459.6 L1390.8,452.9 L1391.8,446.3 L1392.7,439.7 L1393.7,433.1 L1394.6,426.6 L1395.6,420.2 L1396.5,413.8 L1397.5,407.5 L1398.4,401.3 L1399.4,395.2 L1400.3,389.1 L1401.3,383.1 L1402.2,377.1 L1403.2,371.3 L1404.1,365.5 L1405.1,359.8 L1406.0,354.2 L1407.0,348.7 L1407.9,343.2 L1408.9,337.9 L1409.8,332.6 L1410.7,327.4 L1411.7,322.3 L1412.6,317.3 L1413.6,312.3 L1414.5,307.5 L1415.5,302.7 L1416.4,298.1 L1417.4,293.5 L1418.3,289.0 L1419.3,284.6 L1420.2,280.3 L1421.2,276.0 L1422.1,271.9 L1423.1,267.9 L1424.0,263.9 L1425.0,260.0 L1425.9,256.2 L1426.9,252.5 L1427.8,248.9 L1428.8,245.3 L1429.7,241.9 L1430.7,238.5 L1431.6,235.2 L1432.6,232.0 L1433.5,228.9 L1434.5,225.8 L1435.4,222.8 L1436.4,219.9 L1437.3,217.1 L1438.3,214.4 L1439.2,211.7 L1440.2,209.1 L1441.1,206.6 L1442.0,204.1 L1443.0,201.7 L1443.9,199.4 L1444.9,197.1 L1445.8,194.9 L1446.8,192.8 L1447.7,190.7 L1448.7,188.7 L1449.6,186.7 L1450.6,184.8 L1451.5,183.0 L1452.5,181.2 L1453.4,179.5 L1454.4,177.8 L1455.3,176.2 L1456.3,174.6 L1457.2,173.1 L1458.2,171.6 L1459.1,170.2 L1460.1,168.8 L1461.0,167.5 L1462.0,166.2 L1462.9,165.0 L1463.9,163.8 L1464.8,162.6 L1465.8,161.5 L1466.7,160.4 L1467.7,159.3 L1468.6,158.3 L1469.6,157.3 L1470.5,156.4 L1471.5,155.5 L1472.4,154.6 L1473.4,153.8 L1474.3,153.0 L1475.2,152.2 L1476.2,151.4 L1477.1,150.7 L1478.1,150.0 L1479.0,149.3 L1480.0,148.6 L1480.9,148.0 L1481.9,147.4 L1482.8,146.8 L1483.8,146.3 L1484.7,145.7 L1485.7,145.2 L1486.6,144.7 L1487.6,144.2 L1488.5,143.8 L1489.5,143.3 L1490.4,142.9 L1491.4,142.5 L1492.3,142.1 L1493.3,141.7 L1494.2,141.4 L1495.2,141.0 L1496.1,140.7 L1497.1,140.3 L1498.0,140.0 L1499.0,139.7 L1499.9,139.5 L1500.9,139.2 L1501.8,138.9 L1502.8,138.7 L1503.7,138.4 L1504.7,138.2 L1505.6,138.0 L1506.5,137.8 L1507.5,137.6 L1508.4,137.4 L1509.4,137.2 L1510.3,137.0 L1511.3,136.9 L1512.2,136.7 L1513.2,136.6 L1514.1,136.4 L1515.1,136.3 L1516.0,136.1 L1517.0,136.0 L1517.9,135.9 L1518.9,135.8 L1519.8,135.7 L1520.8,135.6 L1521.7,135.5 L1522.7,135.4 L1523.6,135.3 L1524.6,135.2 L1525.5,135.1 L1526.5,135.0 L1527.4,134.9 L1528.4,134.9 L1529.3,134.8 L1530.3,134.7 L1531.2,134.7 L1532.2,134.6 L1533.1,134.5 L1534.1,134.5 L1535.0,134.4 L1536.0,134.4 L1536.9,134.3 L1537.8,134.3 L1538.8,134.3 L1539.7,134.2 L1540.7,134.2 L1541.6,134.1 L1542.6,134.1 L1543.5,134.1 L1544.5,134.0 L1545.4,134.0 L1546.4,134.0 L1547.3,134.0 L1548.3,133.9 L1549.2,133.9 L1550.2,133.9 L1551.1,133.9 L1552.1,133.8 L1553.0,133.8 L1554.0,133.8 L1554.9,133.8" fill="none" stroke="#ff0000" stroke-width="9" stroke-linejoin="round"/>
<path d="M227.0,1188.3 L228.2,1188.3 L229.5,1188.3 L230.7,1188.3 L231.9,1188.2 L233.1,1188.2 L234.4,1188.2 L235.6,1188.2 L236.8,1188.2 L238.0,1188.2 L239.3,1188.2 L240.5,1188.2 L241.7,1188.2 L242.9,1188.2 L244.2,1188.2 L245.4,1188.2 L246.6,1188.1 L247.8,1188.1 L249.1,1188.1 L250.3,1188.1 L251.5,1188.1 L252.7,1188.1 L254.0,1188.1 L255.2,1188.1 L256.4,1188.1 L257.6,1188.1 L258.9,1188.1 L260.1,1188.0 L261.3,1188.0 L262.5,1188.0 L263.8,1188.0 L265.0,1188.0 L266.2,1188.0 L267.4,1188.0 L268.7,1188.0 L269.9,1188.0 L271.1,1188.0 L272.3,1187.9 L273.6,1187.9 L274.8,1187.9 L276.0,1187.9 L277.2,1187.9 L278.5,1187.9 L279.7,1187.9 L280.9,1187.9 L282.1,1187.9 L283.4,1187.9 L284.6,1187.8 L285.8,1187.8 L287.0,1187.8 L288.3,1187.8 L289.5,1187.8 L290.7,1187.8 L291.9,1187.8 L293.2,1187.8 L294.4,1187.7 L295.6,1187.7 L296.8,1187.7 L298.1,1187.7 L299.3,1187.7 L300.5,1187.7 L301.7,1187.7 L303.0,1187.7 L304.2,1187.7 L305.4,1187.6 L306.6,1187.6 L307.9,1187.6 L309.1,1187.6 L310.3,1187.6 L311.5,1187.6 L312.8,1187.6 L314.0,1187.5 L315.2,1187.5 L316.5,1187.5 L317.7,1187.5 L318.9,1187.5 L320.1,1187.5 L321.4,1187.5 L322.6,1187.4 L323.8,1187.4 L325.0,1187.4 L326.3,1187.4 L327.5,1187.4 L328.7,1187.4 L329.9,1187.4 L331.2,1187.3 L332.4,1187.3 L333.6,1187.3 L334.8,1187.3 L336.1,1187.3 L337.3,1187.3 L338.5,1187.2 L339.7,1187.2 L341.0,1187.2 L342.2,1187.2 L343.4,1187.2 L344.6,1187.2 L345.9,1187.1 L347.1,1187.1 L348.3,1187.1 L349.5,1187.1 L350.8,1187.1 L352.0,1187.1 L353.2,1187.0 L354.4,1187.0 L355.7,1187.0 L356.9,1187.0 L358.1,1187.0 L359.3,1186.9 L360.6,1186.9 L361.8,1186.9 L363.0,1186.9 L364.2,1186.9 L365.5,1186.8 L366.7,1186.8 L367.9,1186.8 L369.1,1186.8 L370.4,1186.8 L371.6,1186.7 L372.8,1186.7 L374.0,1186.7 L375.3,1186.7 L376.5,1186.6 L377.7,1186.6 L378.9,1186.6 L380.2,1186.6 L381.4,1186.6 L382.6,1186.5 L383.8,1186.5 L385.1,1186.5 L386.3,1186.5 L387.5,1186.4 L388.7,1186.4 L390.0,1186.4 L391.2,1186.4 L392.4,1186.3 L393.6,1186.3 L394.9,1186.3 L396.1,1186.3 L397.3,1186.2 L398.5,1186.2 L399.8,1186.2 L401.0,1186.1 L402.2,1186.1 L403.5,1186.1 L404.7,1186.1 L405.9,1186.0 L407.1,1186.0 L408.4,1186.0 L409.6,1186.0 L410.8,1185.9 L412.0,1185.9 L413.3,1185.9 L414.5,1185.8 L415.7,1185.8 L416.9,1185.8 L418.2,1185.7 L419.4,1185.7 L420.6,1185.7 L421.8,1185.6 L423.1,1185.6 L424.3,1185.6 L425.5,1185.5 L426.7,1185.5 L428.0,1185.5 L429.2,1185.4 L430.4,1185.4 L431.6,1185.4 L432.9,1185.3 L434.1,1185.3 L435.3,1185.3 L436.5,1185.2 L437.8,1185.2 L439.0,1185.1 L440.2,1185.1 L441.4,1185.1 L442.7,1185.0 L443.9,1185.0 L445.1,1184.9 L446.3,1184.9 L447.6,1184.9 L448.8,1184.8 L450.0,1184.8 L451.2,1184.7 L452.5,1184.7 L453.7,1184.6 L454.9,1184.6 L456.1,1184.6 L457.4,1184.5 L458.6,1184.5 L459.8,1184.4 L461.0,1184.4 L462.3,1184.3 L463.5,1184.3 L464.7,1184.2 L465.9,1184.2 L467.2,1184.1 L468.4,1184.1 L469.6,1184.0 L470.8,1184.0 L472.1,1183.9 L473.3,1183.9 L474.5,1183.8 L475.7,1183.7 L477.0,1183.7 L478.2,1183.6 L479.4,1183.6 L480.6,1183.5 L481.9,1183.5 L483.1,1183.4 L484.3,1183.3 L485.6,1183.3 L486.8,1183.2 L488.0,1183.2 L489.2,1183.1 L490.5,1183.0 L491.7,1183.0 L492.9,1182.9 L494.1,1182.8 L495.4,1182.8 L496.6,1182.7 L497.8,1182.6 L499.0,1182.6 L500.3,1182.5 L501.5,1182.4 L502.7,1182.3 L503.9,1182.3 L505.2,1182.2 L506.4,1182.1 L507.6,1182.0 L508.8,1182.0 L510.1,1181.9 L511.3,1181.8 L512.5,1181.7 L513.7,1181.6 L515.0,1181.6 L516.2,1181.5 L517.4,1181.4 L518.6,1181.3 L519.9,1181.2 L521.1,1181.1 L522.3,1181.0 L523.5,1180.9 L524.8,1180.8 L526.0,1180.8 L527.2,1180.7 L528.4,1180.6 L529.7,1180.5 L530.9,1180.4 L532.1,1180.3 L533.3,1180.2 L534.6,1180.0 L535.8,1179.9 L537.0,1179.8 L538.2,1179.7 L539.5,1179.6 L540.7,1179.5 L541.9,1179.4 L543.1,1179.3 L544.4,1179.2 L545.6,1179.0 L546.8,1178.9 L548.0,1178.8 L549.3,1178.7 L550.5,1178.5 L551.7,1178.4 L552.9,1178.3 L554.2,1178.1 L555.4,1178.0 L556.6,1177.9 L557.8,1177.7 L559.1,1177.6 L560.3,1177.5 L561.5,1177.3 L562.7,1177.2 L564.0,1177.0 L565.2,1176.9 L566.4,1176.7 L567.6,1176.5 L568.9,1176.4 L570.1,1176.2 L571.3,1176.1 L572.6,1175.9 L573.8,1175.7 L575.0,1175.5 L576.2,1175.4 L577.5,1175.2 L578.7,1175.0 L579.9,1174.8 L581.1,1174.6 L582.4,1174.4 L583.6,1174.3 L584.8,1174.1 L586.0,1173.9 L587.3,1173.7 L588.5,1173.4 L589.7,1173.2 L590.9,1173.0 L592.2,1172.8 L593.4,1172.6 L594.6,1172.4 L595.8,1172.1 L597.1,1171.9 L598.3,1171.7 L599.5,1171.4 L600.7,1171.2 L602.0,1170.9 L603.2,1170.7 L604.4,1170.4 L605.6,1170.2 L606.9,1169.9 L608.1,1169.6 L609.3,1169.3 L610.5,1169.1 L611.8,1168.8 L613.0,1168.5 L614.2,1168.2 L615.4,1167.9 L616.7,1167.6 L617.9,1167.3 L619.1,1166.9 L620.3,1166.6 L621.6,1166.3 L622.8,1166.0 L624.0,1165.6 L625.2,1165.3 L626.5,1164.9 L627.7,1164.5 L628.9,1164.2 L630.1,1163.8 L631.4,1163.4 L632.6,1163.0 L633.8,1162.6 L635.0,1162.2 L636.3,1161.8 L637.5,1161.4 L638.7,1161.0 L639.9,1160.5 L641.2,1160.1 L642.4,1159.6 L643.6,1159.2 L644.8,1158.7 L646.1,1158.2 L647.3,1157.7 L648.5,1157.2 L649.7,1156.7 L651.0,1156.2 L652.2,1155.7 L653.4,1155.1 L654.6,1154.6 L655.9,1154.0 L657.1,1153.5 L658.3,1152.9 L659.6,1152.3 L660.8,1151.7 L662.0,1151.1 L663.2,1150.4 L664.5,1149.8 L665.7,1149.1 L666.9,1148.5 L668.1,1147.8 L669.4,1147.1 L670.6,1146.4 L671.8,1145.6 L673.0,1144.9 L674.3,1144.1 L675.5,1143.4 L676.7,1142.6 L677.9,1141.8 L679.2,1141.0 L680.4,1140.1 L681.6,1139.3 L682.8,1138.4 L684.1,1137.5 L685.3,1136.6 L686.5,1135.6 L687.7,1134.7 L689.0,1133.7 L690.2,1132.7 L691.4,1131.7 L692.6,1130.7 L693.9,1129.6 L695.1,1128.6 L696.3,1127.4 L697.5,1126.3 L698.8,1125.2 L700.0,1124.0 L701.2,1122.8 L702.4,1121.6 L703.7,1120.3 L704.9,1119.0 L706.1,1117.7 L707.3,1116.4 L708.6,1115.0 L709.8,1113.6 L711.0,1112.2 L712.2,1110.7 L713.5,1109.2 L714.7,1107.7 L715.9,1106.2 L717.1,1104.6 L718.4,1102.9 L719.6,1101.3 L720.8,1099.6 L722.0,1097.8 L723.3,1096.0 L724.5,1094.2 L725.7,1092.4 L726.9,1090.5 L728.2,1088.5 L729.4,1086.5 L730.6,1084.5 L731.8,1082.4 L733.1,1080.3 L734.3,1078.2 L735.5,1075.9 L736.7,1073.7 L738.0,1071.4 L739.2,1069.0 L740.4,1066.6 L741.7,1064.1 L742.9,1061.6 L744.1,1059.0 L745.3,1056.3 L746.6,1053.6 L747.8,1050.9 L749.0,1048.1 L750.2,1045.2 L751.5,1042.2 L752.7,1039.2 L753.9,1036.1 L755.1,1033.0 L756.4,1029.8 L757.6,1026.5 L758.8,1023.2 L760.0,1019.7 L761.3,1016.2 L762.5,1012.7 L763.7,1009.0 L764.9,1005.3 L766.2,1001.5 L767.4,997.6 L768.6,993.6 L769.8,989.6 L771.1,985.4 L772.3,981.2 L773.5,976.9 L774.7,972.5 L776.0,968.0 L777.2,963.5 L778.4,958.8 L779.6,954.1 L780.9,949.2 L782.1,944.3 L783.3,939.3 L784.5,934.1 L785.8,928.9 L787.0,923.6 L788.2,918.2 L789.4,912.6 L790.7,907.0 L791.9,901.3 L793.1,895.5 L794.3,889.6 L795.6,883.6 L796.8,877.4 L798.0,871.2 L799.2,864.9 L800.5,858.5 L801.7,852.0 L802.9,845.3 L804.1,838.6 L805.4,831.8 L806.6,824.9 L807.8,817.9 L809.0,810.8 L810.3,803.6 L811.5,796.3 L812.7,788.9 L813.9,781.4 L815.2,773.8 L816.4,766.2 L817.6,758.5 L818.8,750.7 L820.1,742.8 L821.3,734.8 L822.5,726.8 L823.7,718.6 L825.0,710.5 L826.2,702.2 L827.4,693.9 L828.7,685.5 L829.9,677.1 L831.1,668.7 L832.3,660.2 L833.6,651.6 L834.8,643.0 L836.0,634.4 L837.2,625.8 L838.5,617.1 L839.7,608.4 L840.9,599.7 L842.1,591.0 L843.4,582.3 L844.6,573.6 L845.8,564.9 L847.0,556.2 L848.3,547.5 L849.5,538.8 L850.7,530.2 L851.9,521.6 L853.2,513.1 L854.4,504.5 L855.6,496.1 L856.8,487.7 L858.1,479.3 L859.3,471.0 L860.5,462.8 L861.7,454.6 L863.0,446.5 L864.2,438.5 L865.4,430.6 L866.6,422.8 L867.9,415.0 L869.1,407.4 L870.3,399.8 L871.5,392.4 L872.8,385.1 L874.0,377.8 L875.2,370.7 L876.4,363.7 L877.7,356.9 L878.9,350.1 L880.1,343.4 L881.3,336.9 L882.6,330.5 L883.8,324.3 L885.0,318.1 L886.2,312.1 L887.5,306.2 L888.7,300.5 L889.9,294.8 L891.1,289.3 L892.4,284.0 L893.6,278.7 L894.8,273.6 L896.0,268.6 L897.3,263.8 L898.5,259.1 L899.7,254.5 L900.9,250.0 L902.2,245.6 L903.4,241.4 L904.6,237.3 L905.8,233.3 L907.1,229.5 L908.3,225.7 L909.5,222.1 L910.7,218.6 L912.0,215.2 L913.2,211.9 L914.4,208.7 L915.7,205.6 L916.9,202.6 L918.1,199.7 L919.3,197.0 L920.6,194.3 L921.8,191.7 L923.0,189.2 L924.2,186.8 L925.5,184.5 L926.7,182.2 L927.9,180.1 L929.1,178.0 L930.4,176.0 L931.6,174.1 L932.8,172.3 L934.0,170.5 L935.3,168.8 L936.5,167.2 L937.7,165.6 L938.9,164.1 L940.2,162.6 L941.4,161.3 L942.6,159.9 L943.8,158.7 L945.1,157.5 L946.3,156.3 L947.5,155.2 L948.7,154.1 L950.0,153.1 L951.2,152.1 L952.4,151.2 L953.6,150.3 L954.9,149.4 L956.1,148.6 L957.3,147.9 L958.5,147.1 L959.8,146.4 L961.0,145.7 L962.2,145.1 L963.4,144.5 L964.7,143.9 L965.9,143.4 L967.1,142.8 L968.3,142.3 L969.6,141.9 L970.8,141.4 L972.0,141.0 L973.2,140.6 L974.5,140.2 L975.7,139.8 L976.9,139.5 L978.1,139.1 L979.4,138.8 L980.6,138.5 L981.8,138.2 L983.0,138.0 L984.3,137.7 L985.5,137.5 L986.7,137.2 L987.9,137.0 L989.2,136.8 L990.4,136.6 L991.6,136.4 L992.8,136.2 L994.1,136.1 L995.3,135.9 L996.5,135.8 L997.7,135.6 L999.0,135.5 L1000.2,135.4 L1001.4,135.3 L1002.7,135.2 L1003.9,135.1 L1005.1,135.0 L1006.3,134.9 L1007.6,134.8 L1008.8,134.7 L1010.0,134.6 L1011.2,134.6 L1012.5,134.5 L1013.7,134.4 L1014.9,134.4 L1016.1,134.3 L1017.4,134.3 L1018.6,134.2 L1019.8,134.2 L1021.0,134.1 L1022.3,134.1 L1023.5,134.0 L1024.7,134.0 L1025.9,134.0 L1027.2,133.9 L1028.4,133.9 L1029.6,133.9 L1030.8,133.9 L1032.1,133.8 L1033.3,133.8 L1034.5,133.8 L1035.7,133.8 L1037.0,133.7 L1038.2,133.7 L1039.4,133.7 L1040.6,133.7 L1041.9,133.7 L1043.1,133.7 L1044.3,133.7 L1045.5,133.6 L1046.8,133.6 L1048.0,133.6 L1049.2,133.6 L1050.4,133.6 L1051.7,133.6 L1052.9,133.6 L1054.1,133.6 L1055.3,133.6 L1056.6,133.6 L1057.8,133.6 L1059.0,133.6 L1060.2,133.6 L1061.5,133.6 L1062.7,133.5 L1063.9,133.5 L1065.1,133.5 L1066.4,133.5 L1067.6,133.5 L1068.8,133.5 L1070.0,133.5 L1071.3,133.5 L1072.5,133.5 L1073.7,133.5 L1074.9,133.5 L1076.2,133.5 L1077.4,133.5 L1078.6,133.5 L1079.8,133.5 L1081.1,133.5 L1082.3,133.5 L1083.5,133.5 L1084.8,133.5 L1086.0,133.5 L1087.2,133.5 L1088.4,133.5 L1089.7,133.5 L1090.9,133.5 L1092.1,133.5 L1093.3,133.5 L1094.6,133.5 L1095.8,133.5 L1097.0,133.5 L1098.2,133.5 L1099.5,133.5 L1100.7,133.5 L1101.9,133.5 L1103.1,133.5 L1104.4,133.5 L1105.6,133.5 L1106.8,133.5 L1108.0,133.5 L1109.3,133.5 L1110.5,133.5 L1111.7,133.5 L1112.9,133.5 L1114.2,133.5 L1115.4,133.5 L1116.6,133.5 L1117.8,133.5 L1119.1,133.5 L1120.3,133.5 L1121.5,133.5 L1122.7,133.5 L1124.0,133.5 L1125.2,133.5 L1126.4,133.5 L1127.6,133.5 L1128.9,133.5 L1130.1,133.5 L1131.3,133.5 L1132.5,133.5 L1133.8,133.5 L1135.0,133.5 L1136.2,133.5 L1137.4,133.5 L1138.7,133.5 L1139.9,133.5 L1141.1,133.5 L1142.3,133.5 L1143.6,133.5 L1144.8,133.5 L1146.0,133.5 L1147.2,133.5 L1148.5,133.5 L1149.7,133.5 L1150.9,133.5 L1152.1,133.5 L1153.4,133.5 L1154.6,133.5 L1155.8,133.5 L1157.0,133.5 L1158.3,133.5 L1159.5,133.5 L1160.7,133.5 L1161.9,133.5 L1163.2,133.5 L1164.4,133.5 L1165.6,133.5 L1166.8,133.5 L1168.1,133.5 L1169.3,133.5 L1170.5,133.5 L1171.8,133.5 L1173.0,133.5 L1174.2,133.5 L1175.4,133.5 L1176.7,133.5 L1177.9,133.5 L1179.1,133.5 L1180.3,133.5 L1181.6,133.5 L1182.8,133.5 L1184.0,133.5 L1185.2,133.5 L1186.5,133.5 L1187.7,133.5 L1188.9,133.5 L1190.1,133.5 L1191.4,133.5 L1192.6,133.5 L1193.8,133.5 L1195.0,133.5 L1196.3,133.5 L1197.5,133.5 L1198.7,133.5 L1199.9,133.5 L1201.2,133.5 L1202.4,133.5 L1203.6,133.5 L1204.8,133.5 L1206.1,133.5 L1207.3,133.5 L1208.5,133.5 L1209.7,133.5 L1211.0,133.5 L1212.2,133.5 L1213.4,133.5 L1214.6,133.5 L1215.9,133.5 L1217.1,133.5 L1218.3,133.5 L1219.5,133.5 L1220.8,133.5 L1222.0,133.5 L1223.2,133.5 L1224.4,133.5 L1225.7,133.5 L1226.9,133.5 L1228.1,133.5 L1229.3,133.5 L1230.6,133.5 L1231.8,133.5 L1233.0,133.5 L1234.2,133.5 L1235.5,133.5 L1236.7,133.5 L1237.9,133.5 L1239.1,133.5 L1240.4,133.5 L1241.6,133.5 L1242.8,133.5 L1244.0,133.5 L1245.3,133.5 L1246.5,133.5 L1247.7,133.5 L1248.9,133.5 L1250.2,133.5 L1251.4,133.5 L1252.6,133.5 L1253.8,133.5 L1255.1,133.5 L1256.3,133.5 L1257.5,133.5 L1258.8,133.5 L1260.0,133.5 L1261.2,133.5 L1262.4,133.5 L1263.7,133.5 L1264.9,133.5 L1266.1,133.5 L1267.3,133.5 L1268.6,133.5 L1269.8,133.5 L1271.0,133.5 L1272.2,133.5 L1273.5,133.5 L1274.7,133.5 L1275.9,133.5 L1277.1,133.5 L1278.4,133.5 L1279.6,133.5 L1280.8,133.5 L1282.0,133.5 L1283.3,133.5 L1284.5,133.5 L1285.7,133.5 L1286.9,133.5 L1288.2,133.5 L1289.4,133.5 L1290.6,133.5 L1291.8,133.5 L1293.1,133.5 L1294.3,133.5 L1295.5,133.5 L1296.7,133.5 L1298.0,133.5 L1299.2,133.5 L1300.4,133.5 L1301.6,133.5 L1302.9,133.5 L1304.1,133.5 L1305.3,133.5 L1306.5,133.5 L1307.8,133.5 L1309.0,133.5 L1310.2,133.5 L1311.4,133.5 L1312.7,133.5 L1313.9,133.5 L1315.1,133.5 L1316.3,133.5 L1317.6,133.5 L1318.8,133.5 L1320.0,133.5 L1321.2,133.5 L1322.5,133.5 L1323.7,133.5 L1324.9,133.5 L1326.1,133.5 L1327.4,133.5 L1328.6,133.5 L1329.8,133.5 L1331.0,133.5 L1332.3,133.5 L1333.5,133.5 L1334.7,133.5 L1335.9,133.5 L1337.2,133.5 L1338.4,133.5 L1339.6,133.5 L1340.8,133.5 L1342.1,133.5 L1343.3,133.5 L1344.5,133.5 L1345.8,133.5 L1347.0,133.5 L1348.2,133.5 L1349.4,133.5 L1350.7,133.5 L1351.9,133.5 L1353.1,133.5 L1354.3,133.5 L1355.6,133.5 L1356.8,133.5 L1358.0,133.5 L1359.2,133.5 L1360.5,133.5 L1361.7,133.5 L1362.9,133.5 L1364.1,133.5 L1365.4,133.5 L1366.6,133.5 L1367.8,133.5 L1369.0,133.5 L1370.3,133.5 L1371.5,133.5 L1372.7,133.5 L1373.9,133.5 L1375.2,133.5 L1376.4,133.5 L1377.6,133.5 L1378.8,133.5 L1380.1,133.5 L1381.3,133.5 L1382.5,133.5 L1383.7,133.5 L1385.0,133.5 L1386.2,133.5 L1387.4,133.5 L1388.6,133.5 L1389.9,133.5 L1391.1,133.5 L1392.3,133.5 L1393.5,133.5 L1394.8,133.5 L1396.0,133.5 L1397.2,133.5 L1398.4,133.5 L1399.7,133.5 L1400.9,133.5 L1402.1,133.5 L1403.3,133.5 L1404.6,133.5 L1405.8,133.5 L1407.0,133.5 L1408.2,133.5 L1409.5,133.5 L1410.7,133.5 L1411.9,133.5 L1413.1,133.5 L1414.4,133.5 L1415.6,133.5 L1416.8,133.5 L1418.0,133.5 L1419.3,133.5 L1420.5,133.5 L1421.7,133.5 L1422.9,133.5 L1424.2,133.5 L1425.4,133.5 L1426.6,133.5 L1427.9,133.5 L1429.1,133.5 L1430.3,133.5 L1431.5,133.5 L1432.8,133.5 L1434.0,133.5 L1435.2,133.5 L1436.4,133.5 L1437.7,133.5 L1438.9,133.5 L1440.1,133.5 L1441.3,133.5 L1442.6,133.5 L1443.8,133.5 L1445.0,133.5 L1446.2,133.5 L1447.5,133.5 L1448.7,133.5 L1449.9,133.5 L1451.1,133.5 L1452.4,133.5 L1453.6,133.5 L1454.8,133.5 L1456.0,133.5 L1457.3,133.5 L1458.5,133.5 L1459.7,133.5 L1460.9,133.5 L1462.2,133.5 L1463.4,133.5 L1464.6,133.5 L1465.8,133.5 L1467.1,133.5 L1468.3,133.5 L1469.5,133.5 L1470.7,133.5 L1472.0,133.5 L1473.2,133.5 L1474.4,133.5 L1475.6,133.5 L1476.9,133.5 L1478.1,133.5 L1479.3,133.5 L1480.5,133.5 L1481.8,133.5 L1483.0,133.5 L1484.2,133.5 L1485.4,133.5 L1486.7,133.5 L1487.9,133.5 L1489.1,133.5 L1490.3,133.5 L1491.6,133.5 L1492.8,133.5 L1494.0,133.5 L1495.2,133.5 L1496.5,133.5 L1497.7,133.5 L1498.9,133.5 L1500.1,133.5 L1501.4,133.5 L1502.6,133.5 L1503.8,133.5 L1505.0,133.5 L1506.3,133.5 L1507.5,133.5 L1508.7,133.5 L1509.9,133.5 L1511.2,133.5 L1512.4,133.5 L1513.6,133.5 L1514.9,133.5 L1516.1,133.5 L1517.3,133.5 L1518.5,133.5 L1519.8,133.5 L1521.0,133.5 L1522.2,133.5 L1523.4,133.5 L1524.7,133.5 L1525.9,133.5 L1527.1,133.5 L1528.3,133.5 L1529.6,133.5 L1530.8,133.5 L1532.0,133.5 L1533.2,133.5 L1534.5,133.5 L1535.7,133.5 L1536.9,133.5 L1538.1,133.5 L1539.4,133.5 L1540.6,133.5 L1541.8,133.5 L1543.0,133.5 L1544.3,133.5 L1545.5,133.5 L1546.7,133.5 L1547.9,133.5 L1549.2,133.5 L1550.4,133.5 L1551.6,133.5 L1552.8,133.5 L1554.1,133.5 L1555.3,133.5 L1556.5,133.5 L1557.7,133.5 L1559.0,133.5 L1560.2,133.5 L1561.4,133.5 L1562.6,133.5 L1563.9,133.5 L1565.1,133.5 L1566.3,133.5 L1567.5,133.5 L1568.8,133.5 L1570.0,133.5 L1571.2,133.5 L1572.4,133.5 L1573.7,133.5 L1574.9,133.5 L1576.1,133.5 L1577.3,133.5 L1578.6,133.5 L1579.8,133.5 L1581.0,133.5 L1582.2,133.5 L1583.5,133.5 L1584.7,133.5 L1585.9,133.5 L1587.1,133.5 L1588.4,133.5 L1589.6,133.5 L1590.8,133.5 L1592.0,133.5 L1593.3,133.5 L1594.5,133.5 L1595.7,133.5 L1596.9,133.5 L1598.2,133.5 L1599.4,133.5 L1600.6,133.5 L1601.9,133.5 L1603.1,133.5 L1604.3,133.5 L1605.5,133.5 L1606.8,133.5 L1608.0,133.5 L1609.2,133.5 L1610.4,133.5 L1611.7,133.5 L1612.9,133.5 L1614.1,133.5 L1615.3,133.5 L1616.6,133.5 L1617.8,133.5 L1619.0,133.5 L1620.2,133.5 L1621.5,133.5 L1622.7,133.5 L1623.9,133.5 L1625.1,133.5 L1626.4,133.5 L1627.6,133.5 L1628.8,133.5 L1630.0,133.5 L1631.3,133.5 L1632.5,133.5 L1633.7,133.5 L1634.9,133.5 L1636.2,133.5 L1637.4,133.5 L1638.6,133.5 L1639.8,133.5 L1641.1,133.5 L1642.3,133.5 L1643.5,133.5 L1644.7,133.5 L1646.0,133.5 L1647.2,133.5 L1648.4,133.5 L1649.6,133.5 L1650.9,133.5 L1652.1,133.5 L1653.3,133.5 L1654.5,133.5 L1655.8,133.5 L1657.0,133.5 L1658.2,133.5 L1659.4,133.5 L1660.7,133.5 L1661.9,133.5 L1663.1,133.5 L1664.3,133.5 L1665.6,133.5 L1666.8,133.5 L1668.0,133.5 L1669.2,133.5 L1670.5,133.5 L1671.7,133.5 L1672.9,133.5 L1674.1,133.5 L1675.4,133.5 L1676.6,133.5 L1677.8,133.5 L1679.0,133.5 L1680.3,133.5 L1681.5,133.5 L1682.7,133.5 L1683.9,133.5 L1685.2,133.5 L1686.4,133.5 L1687.6,133.5 L1688.9,133.5 L1690.1,133.5 L1691.3,133.5 L1692.5,133.5 L1693.8,133.5 L1695.0,133.5 L1696.2,133.5 L1697.4,133.5 L1698.7,133.5 L1699.9,133.5 L1701.1,133.5 L1702.3,133.5 L1703.6,133.5 L1704.8,133.5 L1706.0,133.5 L1707.2,133.5 L1708.5,133.5 L1709.7,133.5 L1710.9,133.5 L1712.1,133.5 L1713.4,133.5 L1714.6,133.5 L1715.8,133.5 L1717.0,133.5 L1718.3,133.5 L1719.5,133.5 L1720.7,133.5 L1721.9,133.5 L1723.2,133.5 L1724.4,133.5 L1725.6,133.5 L1726.8,133.5 L1728.1,133.5 L1729.3,133.5 L1730.5,133.5 L1731.7,133.5 L1733.0,133.5 L1734.2,133.5 L1735.4,133.5 L1736.6,133.5 L1737.9,133.5 L1739.1,133.5 L1740.3,133.5 L1741.5,133.5 L1742.8,133.5 L1744.0,133.5 L1745.2,133.5 L1746.4,133.5 L1747.7,133.5 L1748.9,133.5 L1750.1,133.5 L1751.3,133.5 L1752.6,133.5 L1753.8,133.5 L1755.0,133.5 L1756.2,133.5 L1757.5,133.5 L1758.7,133.5 L1759.9,133.5 L1761.1,133.5 L1762.4,133.5 L1763.6,133.5 L1764.8,133.5 L1766.0,133.5 L1767.3,133.5 L1768.5,133.5 L1769.7,133.5 L1771.0,133.5 L1772.2,133.5 L1773.4,133.5 L1774.6,133.5 L1775.9,133.5 L1777.1,133.5 L1778.3,133.5 L1779.5,133.5 L1780.8,133.5 L1782.0,133.5 L1783.2,133.5 L1784.4,133.5 L1785.7,133.5 L1786.9,133.5 L1788.1,133.5 L1789.3,133.5 L1790.6,133.5 L1791.8,133.5 L1793.0,133.5 L1794.2,133.5 L1795.5,133.5 L1796.7,133.5 L1797.9,133.5 L1799.1,133.5 L1800.4,133.5 L1801.6,133.5 L1802.8,133.5 L1804.0,133.5 L1805.3,133.5 L1806.5,133.5 L1807.7,133.5 L1808.9,133.5 L1810.2,133.5 L1811.4,133.5 L1812.6,133.5 L1813.8,133.5 L1815.1,133.5 L1816.3,133.5 L1817.5,133.5 L1818.7,133.5 L1820.0,133.5 L1821.2,133.5 L1822.4,133.5 L1823.6,133.5 L1824.9,133.5 L1826.1,133.5 L1827.3,133.5 L1828.5,133.5 L1829.8,133.5 L1831.0,133.5 L1832.2,133.5 L1833.4,133.5 L1834.7,133.5 L1835.9,133.5 L1837.1,133.5 L1838.3,133.5 L1839.6,133.5 L1840.8,133.5 L1842.0,133.5 L1843.2,133.5 L1844.5,133.5 L1845.7,133.5 L1846.9,133.5 L1848.1,133.5 L1849.4,133.5 L1850.6,133.5 L1851.8,133.5 L1853.0,133.5 L1854.3,133.5 L1855.5,133.5 L1856.7,133.5 L1858.0,133.5 L1859.2,133.5 L1860.4,133.5 L1861.6,133.5 L1862.9,133.5 L1864.1,133.5 L1865.3,133.5 L1866.5,133.5 L1867.8,133.5 L1869.0,133.5 L1870.2,133.5 L1871.4,133.5 L1872.7,133.5 L1873.9,133.5 L1875.1,133.5 L1876.3,133.5 L1877.6,133.5 L1878.8,133.5 L1880.0,133.5 L1881.2,133.5 L1882.5,133.5 L1883.7,133.5 L1884.9,133.5 L1886.1,133.5 L1887.4,133.5 L1888.6,133.5 L1889.8,133.5 L1891.0,133.5 L1892.3,133.5 L1893.5,133.5 L1894.7,133.5 L1895.9,133.5 L1897.2,133.5 L1898.4,133.5 L1899.6,133.5 L1900.8,133.5 L1902.1,133.5 L1903.3,133.5 L1904.5,133.5 L1905.7,133.5 L1907.0,133.5 L1908.2,133.5 L1909.4,133.5 L1910.6,133.5 L1911.9,133.5 L1913.1,133.5 L1914.3,133.5 L1915.5,133.5 L1916.8,133.5 L1918.0,133.5 L1919.2,133.5 L1920.4,133.5 L1921.7,133.5 L1922.9,133.5 L1924.1,133.5 L1925.3,133.5 L1926.6,133.5 L1927.8,133.5 L1929.0,133.5 L1930.2,133.5 L1931.5,133.5 L1932.7,133.5 L1933.9,133.5 L1935.1,133.5 L1936.4,133.5 L1937.6,133.5 L1938.8,133.5 L1940.0,133.5 L1941.3,133.5 L1942.5,133.5" fill="none" stroke="#000000" stroke-width="9" stroke-linejoin="round"/>
<rect x="231" y="658" width="1709" height="9" fill="#7f7f7f" fill-opacity="0.5"/>
<rect x="223" y="26" width="6" height="1273" fill="#000"/>
<rect x="229" y="31" width="2" height="1263" fill="#4a4a4a"/>
<rect x="223" y="26" width="1722" height="5" fill="#000"/>
<rect x="1940" y="26" width="5" height="1273" fill="#000"/>
<rect x="1945" y="29" width="3" height="1270" fill="#8c8c8c"/>
<rect x="231" y="1291" width="1709" height="3" fill="#dcdcd4"/>
<rect x="223" y="1294" width="1722" height="5" fill="#000"/>
<rect x="231" y="1187.0" width="25" height="6" fill="#000"/>
<rect x="231" y="1081.3" width="12" height="6" fill="#000"/>
<rect x="231" y="975.7" width="25" height="6" fill="#000"/>
<rect x="231" y="870.0" width="12" height="6" fill="#000"/>
<rect x="231" y="764.4" width="25" height="6" fill="#000"/>
<rect x="231" y="658.8" width="12" height="6" fill="#000"/>
<rect x="231" y="553.1" width="25" height="6" fill="#000"/>
<rect x="231" y="447.5" width="12" height="6" fill="#000"/>
<rect x="231" y="341.8" width="25" height="6" fill="#000"/>
<rect x="231" y="236.1" width="12" height="6" fill="#000"/>
<rect x="231" y="130.5" width="25" height="6" fill="#000"/>
<rect x="396.1" y="1281" width="6" height="13" fill="#000"/>
<rect x="496.8" y="1281" width="6" height="13" fill="#000"/>
<rect x="568.3" y="1281" width="6" height="13" fill="#000"/>
<rect x="623.7" y="1281" width="6" height="13" fill="#000"/>
<rect x="669.0" y="1281" width="6" height="13" fill="#000"/>
<rect x="707.3" y="1281" width="6" height="13" fill="#000"/>
<rect x="740.4" y="1281" width="6" height="13" fill="#000"/>
<rect x="769.7" y="1281" width="6" height="13" fill="#000"/>
<rect x="968.0" y="1281" width="6" height="13" fill="#000"/>
<rect x="1068.7" y="1281" width="6" height="13" fill="#000"/>
<rect x="1140.1" y="1281" width="6" height="13" fill="#000"/>
<rect x="1195.5" y="1281" width="6" height="13" fill="#000"/>
<rect x="1240.8" y="1281" width="6" height="13" fill="#000"/>
<rect x="1279.1" y="1281" width="6" height="13" fill="#000"/>
<rect x="1312.3" y="1281" width="6" height="13" fill="#000"/>
<rect x="1341.5" y="1281" width="6" height="13" fill="#000"/>
<rect x="1539.8" y="1281" width="6" height="13" fill="#000"/>
<rect x="1640.5" y="1281" width="6" height="13" fill="#000"/>
<rect x="1711.9" y="1281" width="6" height="13" fill="#000"/>
<rect x="1767.4" y="1281" width="6" height="13" fill="#000"/>
<rect x="1812.6" y="1281" width="6" height="13" fill="#000"/>
<rect x="1850.9" y="1281" width="6" height="13" fill="#000"/>
<rect x="1884.1" y="1281" width="6" height="13" fill="#000"/>
<rect x="1913.3" y="1281" width="6" height="13" fill="#000"/>
<rect x="795.3" y="1267" width="7" height="27" fill="#000"/>
<rect x="1367.2" y="1267" width="7" height="27" fill="#000"/>
<text x="120.51" y="1207.50" font-family="'Liberation Serif', 'Times New Roman', serif" font-size="65" font-weight="bold" font-style="normal" fill="#000" textLength="77.78" lengthAdjust="spacingAndGlyphs">0.0</text>
<text x="120.50" y="996.20" font-family="'Liberation Serif', 'Times New Roman', serif" font-size="65" font-weight="bold" font-style="normal" fill="#000" textLength="78.11" lengthAdjust="spacingAndGlyphs">0.2</text>
<text x="120.55" y="784.90" font-family="'Liberation Serif', 'Times New Roman', serif" font-size="65" font-weight="bold" font-style="normal" fill="#000" textLength="76.47" lengthAdjust="spacingAndGlyphs">0.4</text>
<text x="120.53" y="573.60" font-family="'Liberation Serif', 'Times New Roman', serif" font-size="65" font-weight="bold" font-style="normal" fill="#000" textLength="77.12" lengthAdjust="spacingAndGlyphs">0.6</text>
<text x="120.52" y="362.30" font-family="'Liberation Serif', 'Times New Roman', serif" font-size="65" font-weight="bold" font-style="normal" fill="#000" textLength="77.45" lengthAdjust="spacingAndGlyphs">0.8</text>
<text x="122.77" y="151.00" font-family="'Liberation Serif', 'Times New Roman', serif" font-size="65" font-weight="bold" font-style="normal" fill="#000" textLength="75.44" lengthAdjust="spacingAndGlyphs">1.0</text>
<text x="209.01" y="1372.60" font-family="'Liberation Serif', 'Times New Roman', serif" font-size="65" font-weight="bold" font-style="normal" fill="#000" textLength="30.54" lengthAdjust="spacingAndGlyphs">1</text>
<text x="766.15" y="1372.60" font-family="'Liberation Serif', 'Times New Roman', serif" font-size="65" font-weight="bold" font-style="normal" fill="#000" textLength="64.32" lengthAdjust="spacingAndGlyphs">10</text>
<text x="1321.46" y="1372.60" font-family="'Liberation Serif', 'Times New Roman', serif" font-size="65" font-weight="bold" font-style="normal" fill="#000" textLength="96.41" lengthAdjust="spacingAndGlyphs">100</text>
<text x="1878.67" y="1372.60" font-family="'Liberation Serif', 'Times New Roman', serif" font-size="65" font-weight="bold" font-style="normal" fill="#000" textLength="125.85" lengthAdjust="spacingAndGlyphs">1000</text>
<text x="787.03" y="1455.10" font-family="'Liberation Serif', 'Times New Roman', serif" font-size="71" font-weight="bold" font-style="normal" fill="#000" textLength="595.22" lengthAdjust="spacingAndGlyphs">Ignition energy (mJ)</text>
<text transform="rotate(-90)" x="-998.81" y="73" font-family="'Liberation Serif', 'Times New Roman', serif" font-size="71" font-weight="bold" textLength="578.76" lengthAdjust="spacingAndGlyphs">Ignition probability</text>
<text x="327.21" y="154.30" font-family="'Liberation Serif', 'Times New Roman', serif" font-size="66" font-weight="bold" font-style="normal" fill="#000" textLength="142.87" lengthAdjust="spacingAndGlyphs">RP-3</text>
<text x="326.69" y="238.20" font-family="'Liberation Serif', 'Times New Roman', serif" font-size="66" font-weight="bold" font-style="italic" fill="#000" textLength="41.58" lengthAdjust="spacingAndGlyphs">T</text>
<text x="365.11" y="239.00" font-family="'Liberation Serif', 'Times New Roman', serif" font-size="50" font-weight="bold" font-style="italic" fill="#000" textLength="29.13" lengthAdjust="spacingAndGlyphs">u</text>
<text x="409.89" y="238.20" font-family="'Liberation Serif', 'Times New Roman', serif" font-size="66" font-weight="bold" font-style="normal" fill="#000" textLength="43.38" lengthAdjust="spacingAndGlyphs">=</text>
<text x="467.49" y="238.20" font-family="'Liberation Serif', 'Times New Roman', serif" font-size="66" font-weight="bold" font-style="normal" fill="#000" textLength="101.28" lengthAdjust="spacingAndGlyphs">413</text>
<text x="589.88" y="238.20" font-family="'Liberation Serif', 'Times New Roman', serif" font-size="66" font-weight="bold" font-style="normal" fill="#000" textLength="47.80" lengthAdjust="spacingAndGlyphs">K</text>
<text x="321.64" y="325.10" font-family="'Liberation Serif', 'Times New Roman', serif" font-size="66" font-weight="bold" font-style="italic" fill="#000" textLength="37.41" lengthAdjust="spacingAndGlyphs">p</text>
<text x="357.41" y="344.40" font-family="'Liberation Serif', 'Times New Roman', serif" font-size="50" font-weight="bold" font-style="italic" fill="#000" textLength="30.50" lengthAdjust="spacingAndGlyphs">u</text>
<text x="401.46" y="325.10" font-family="'Liberation Serif', 'Times New Roman', serif" font-size="66" font-weight="normal" font-style="normal" fill="#000" textLength="45.60" lengthAdjust="spacingAndGlyphs">=</text>
<text x="460.64" y="325.10" font-family="'Liberation Serif', 'Times New Roman', serif" font-size="66" font-weight="bold" font-style="normal" fill="#000" textLength="83.09" lengthAdjust="spacingAndGlyphs">0.3</text>
<text x="562.26" y="325.10" font-family="'Liberation Serif', 'Times New Roman', serif" font-size="66" font-weight="bold" font-style="normal" fill="#000" textLength="113.34" lengthAdjust="spacingAndGlyphs">atm</text>
<text x="328.27" y="434.60" font-family="'Liberation Serif', 'Times New Roman', serif" font-size="66" font-weight="bold" font-style="italic" fill="#000" textLength="35.92" lengthAdjust="spacingAndGlyphs">&#x3D5;</text>
<text x="392.93" y="434.60" font-family="'Liberation Serif', 'Times New Roman', serif" font-size="66" font-weight="bold" font-style="normal" fill="#000" textLength="44.12" lengthAdjust="spacingAndGlyphs">=</text>
<text x="449.80" y="434.60" font-family="'Liberation Serif', 'Times New Roman', serif" font-size="68" font-weight="bold" font-style="normal" fill="#000" textLength="84.37" lengthAdjust="spacingAndGlyphs">1.1</text>
<path d="M337.50,826.59 L347.91,844.10 L327.09,844.10 Z" fill="#fff"/><path d="M337.50,816.80 L356.70,849.10 L318.30,849.10 Z M337.50,826.59 L347.91,844.10 L327.09,844.10 Z" fill="#0000ff" fill-rule="evenodd"/>
<circle cx="337.7" cy="920.1" r="12.8" fill="#fff" stroke="#ff0000" stroke-width="5"/>
<rect x="327.7" y="993.7" width="22.6" height="22.6" fill="#fff" stroke="#000" stroke-width="5.5"/>
<text x="404.77" y="857.50" font-family="'Liberation Serif', 'Times New Roman', serif" font-size="66" font-weight="normal" font-style="normal" fill="#000" textLength="45.60" lengthAdjust="spacingAndGlyphs">Z</text>
<text x="450.06" y="859.00" font-family="'Liberation Serif', 'Times New Roman', serif" font-size="46" font-weight="normal" font-style="normal" fill="#000" textLength="56.27" lengthAdjust="spacingAndGlyphs">O2</text>
<text x="518.55" y="857.50" font-family="'Liberation Serif', 'Times New Roman', serif" font-size="66" font-weight="normal" font-style="normal" fill="#000" textLength="45.73" lengthAdjust="spacingAndGlyphs">=</text>
<text x="579.78" y="857.50" font-family="'Liberation Serif', 'Times New Roman', serif" font-size="66" font-weight="normal" font-style="normal" fill="#000" textLength="115.15" lengthAdjust="spacingAndGlyphs">13.5</text>
<text x="714.43" y="857.50" font-family="'Liberation Serif', 'Times New Roman', serif" font-size="66" font-weight="normal" font-style="normal" fill="#000" textLength="56.52" lengthAdjust="spacingAndGlyphs">%</text>
<text x="404.77" y="941.60" font-family="'Liberation Serif', 'Times New Roman', serif" font-size="66" font-weight="normal" font-style="normal" fill="#000" textLength="45.60" lengthAdjust="spacingAndGlyphs">Z</text>
<text x="450.06" y="943.10" font-family="'Liberation Serif', 'Times New Roman', serif" font-size="46" font-weight="normal" font-style="normal" fill="#000" textLength="56.27" lengthAdjust="spacingAndGlyphs">O2</text>
<text x="518.55" y="941.60" font-family="'Liberation Serif', 'Times New Roman', serif" font-size="66" font-weight="normal" font-style="normal" fill="#000" textLength="45.73" lengthAdjust="spacingAndGlyphs">=</text>
<text x="579.91" y="941.60" font-family="'Liberation Serif', 'Times New Roman', serif" font-size="66" font-weight="normal" font-style="normal" fill="#000" textLength="64.32" lengthAdjust="spacingAndGlyphs">16</text>
<text x="663.57" y="941.60" font-family="'Liberation Serif', 'Times New Roman', serif" font-size="66" font-weight="normal" font-style="normal" fill="#000" textLength="55.43" lengthAdjust="spacingAndGlyphs">%</text>
<text x="404.77" y="1026.60" font-family="'Liberation Serif', 'Times New Roman', serif" font-size="66" font-weight="normal" font-style="normal" fill="#000" textLength="45.60" lengthAdjust="spacingAndGlyphs">Z</text>
<text x="450.06" y="1028.10" font-family="'Liberation Serif', 'Times New Roman', serif" font-size="46" font-weight="normal" font-style="normal" fill="#000" textLength="56.27" lengthAdjust="spacingAndGlyphs">O2</text>
<text x="518.55" y="1026.60" font-family="'Liberation Serif', 'Times New Roman', serif" font-size="66" font-weight="normal" font-style="normal" fill="#000" textLength="45.73" lengthAdjust="spacingAndGlyphs">=</text>
<text x="577.35" y="1026.60" font-family="'Liberation Serif', 'Times New Roman', serif" font-size="66" font-weight="normal" font-style="normal" fill="#000" textLength="61.12" lengthAdjust="spacingAndGlyphs">21</text>
<text x="663.57" y="1026.60" font-family="'Liberation Serif', 'Times New Roman', serif" font-size="66" font-weight="normal" font-style="normal" fill="#000" textLength="55.43" lengthAdjust="spacingAndGlyphs">%</text>
</svg>
</body></html>
